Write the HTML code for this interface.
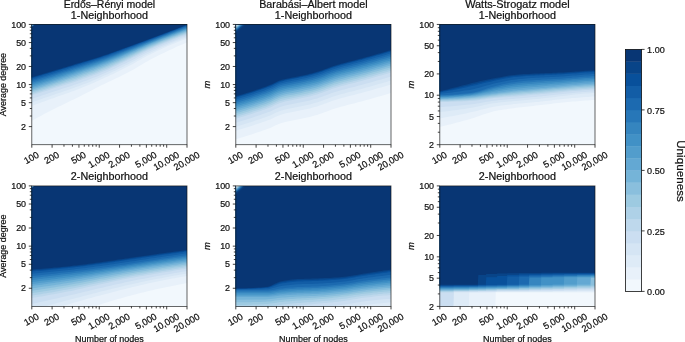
<!DOCTYPE html>
<html><head><meta charset="utf-8"><title>Uniqueness</title>
<style>html,body{margin:0;padding:0;background:#fff;overflow:hidden}svg{display:block;will-change:transform}</style></head>
<body>
<svg width="685" height="342" viewBox="0 0 685 342" font-family="'Liberation Sans', sans-serif" fill="#111" stroke="none">
<style>text{stroke:#111;stroke-width:0.22px}</style>
<clipPath id="c00"><rect x="31.80" y="24.45" width="155.20" height="120.25"/></clipPath>
<g clip-path="url(#c00)">
<rect x="30.80" y="23.45" width="157.20" height="122.25" fill="#f2f8fd"/>
<polygon points="30.8,23.4 188.0,23.4 188.0,42.5 187.0,42.5 184.5,43.5 182.1,44.5 179.6,45.6 177.1,46.6 174.7,47.7 172.2,48.9 169.8,50.0 167.3,51.2 164.8,52.4 162.4,53.6 159.9,54.8 157.4,56.0 155.0,57.3 152.5,58.6 150.0,59.8 147.6,61.2 145.1,62.5 142.7,64.0 140.2,65.5 137.7,67.0 135.3,68.4 132.8,69.9 130.3,71.3 127.9,72.6 125.4,73.8 122.9,75.1 120.5,76.3 118.0,77.4 115.6,78.6 113.1,79.7 110.6,80.9 108.2,82.0 105.7,83.2 103.2,84.4 100.8,85.6 98.3,86.9 95.9,88.1 93.4,89.4 90.9,90.7 88.5,92.0 86.0,93.3 83.5,94.5 81.1,95.8 78.6,97.0 76.1,98.3 73.7,99.5 71.2,100.6 68.8,101.8 66.3,103.0 63.8,104.2 61.4,105.4 58.9,106.6 56.4,107.8 54.0,109.0 51.5,110.3 49.0,111.6 46.6,112.8 44.1,114.1 41.7,115.5 39.2,116.8 36.7,118.1 34.3,119.5 31.8,120.8 30.8,120.8" fill="#e8f1fa"/>
<polygon points="30.8,23.4 188.0,23.4 188.0,38.5 187.0,38.5 184.5,39.4 182.1,40.3 179.6,41.2 177.1,42.2 174.7,43.2 172.2,44.2 169.8,45.3 167.3,46.3 164.8,47.4 162.4,48.5 159.9,49.7 157.4,50.8 155.0,52.0 152.5,53.2 150.0,54.4 147.6,55.6 145.1,56.9 142.7,58.3 140.2,59.7 137.7,61.1 135.3,62.5 132.8,63.9 130.3,65.3 127.9,66.6 125.4,67.8 122.9,69.1 120.5,70.3 118.0,71.5 115.6,72.7 113.1,73.9 110.6,75.0 108.2,76.2 105.7,77.3 103.2,78.4 100.8,79.6 98.3,80.7 95.9,81.8 93.4,82.9 90.9,83.9 88.5,85.0 86.0,86.0 83.5,87.1 81.1,88.1 78.6,89.0 76.1,90.0 73.7,90.9 71.2,91.8 68.8,92.7 66.3,93.5 63.8,94.4 61.4,95.3 58.9,96.1 56.4,97.0 54.0,97.9 51.5,98.8 49.0,99.6 46.6,100.5 44.1,101.4 41.7,102.3 39.2,103.2 36.7,104.1 34.3,105.0 31.8,105.9 30.8,105.9" fill="#deebf7"/>
<polygon points="30.8,23.4 188.0,23.4 188.0,37.2 187.0,37.2 184.5,38.0 182.1,38.9 179.6,39.9 177.1,40.8 174.7,41.8 172.2,42.8 169.8,43.8 167.3,44.9 164.8,45.9 162.4,47.0 159.9,48.1 157.4,49.2 155.0,50.4 152.5,51.5 150.0,52.7 147.6,53.9 145.1,55.1 142.7,56.4 140.2,57.8 137.7,59.1 135.3,60.5 132.8,61.8 130.3,63.1 127.9,64.4 125.4,65.6 122.9,66.9 120.5,68.1 118.0,69.3 115.6,70.4 113.1,71.6 110.6,72.8 108.2,73.9 105.7,75.0 103.2,76.1 100.8,77.2 98.3,78.3 95.9,79.3 93.4,80.3 90.9,81.4 88.5,82.4 86.0,83.4 83.5,84.3 81.1,85.3 78.6,86.2 76.1,87.1 73.7,88.0 71.2,88.8 68.8,89.7 66.3,90.5 63.8,91.3 61.4,92.2 58.9,93.0 56.4,93.8 54.0,94.7 51.5,95.5 49.0,96.4 46.6,97.3 44.1,98.1 41.7,99.0 39.2,99.8 36.7,100.7 34.3,101.5 31.8,102.4 30.8,102.4" fill="#d5e5f4"/>
<polygon points="30.8,23.4 188.0,23.4 188.0,35.8 187.0,35.8 184.5,36.7 182.1,37.6 179.6,38.5 177.1,39.4 174.7,40.4 172.2,41.4 169.8,42.4 167.3,43.4 164.8,44.4 162.4,45.5 159.9,46.5 157.4,47.6 155.0,48.7 152.5,49.8 150.0,51.0 147.6,52.1 145.1,53.3 142.7,54.6 140.2,55.8 137.7,57.1 135.3,58.5 132.8,59.7 130.3,61.0 127.9,62.2 125.4,63.4 122.9,64.6 120.5,65.8 118.0,67.0 115.6,68.2 113.1,69.4 110.6,70.5 108.2,71.6 105.7,72.7 103.2,73.8 100.8,74.8 98.3,75.9 95.9,76.9 93.4,77.8 90.9,78.8 88.5,79.7 86.0,80.7 83.5,81.6 81.1,82.5 78.6,83.4 76.1,84.2 73.7,85.1 71.2,85.9 68.8,86.7 66.3,87.5 63.8,88.3 61.4,89.1 58.9,89.9 56.4,90.7 54.0,91.5 51.5,92.3 49.0,93.1 46.6,94.0 44.1,94.8 41.7,95.6 39.2,96.4 36.7,97.3 34.3,98.1 31.8,98.9 30.8,98.9" fill="#cbdef1"/>
<polygon points="30.8,23.4 188.0,23.4 188.0,34.5 187.0,34.5 184.5,35.4 182.1,36.2 179.6,37.1 177.1,38.0 174.7,39.0 172.2,39.9 169.8,40.9 167.3,41.9 164.8,42.9 162.4,43.9 159.9,45.0 157.4,46.0 155.0,47.1 152.5,48.2 150.0,49.2 147.6,50.3 145.1,51.5 142.7,52.7 140.2,53.9 137.7,55.2 135.3,56.4 132.8,57.6 130.3,58.9 127.9,60.0 125.4,61.2 122.9,62.4 120.5,63.6 118.0,64.8 115.6,66.0 113.1,67.1 110.6,68.3 108.2,69.4 105.7,70.4 103.2,71.5 100.8,72.5 98.3,73.5 95.9,74.4 93.4,75.3 90.9,76.2 88.5,77.1 86.0,78.0 83.5,78.8 81.1,79.7 78.6,80.5 76.1,81.4 73.7,82.2 71.2,82.9 68.8,83.7 66.3,84.5 63.8,85.2 61.4,86.0 58.9,86.8 56.4,87.5 54.0,88.3 51.5,89.1 49.0,89.9 46.6,90.7 44.1,91.5 41.7,92.3 39.2,93.0 36.7,93.8 34.3,94.6 31.8,95.4 30.8,95.4" fill="#bed8ec"/>
<polygon points="30.8,23.4 188.0,23.4 188.0,33.6 187.0,33.6 184.5,34.5 182.1,35.3 179.6,36.2 177.1,37.2 174.7,38.1 172.2,39.0 169.8,40.0 167.3,41.0 164.8,42.0 162.4,43.0 159.9,44.0 157.4,45.1 155.0,46.1 152.5,47.2 150.0,48.3 147.6,49.3 145.1,50.5 142.7,51.6 140.2,52.8 137.7,54.1 135.3,55.3 132.8,56.5 130.3,57.7 127.9,58.8 125.4,60.0 122.9,61.2 120.5,62.3 118.0,63.5 115.6,64.6 113.1,65.8 110.6,66.9 108.2,68.0 105.7,69.0 103.2,70.1 100.8,71.0 98.3,72.0 95.9,72.9 93.4,73.9 90.9,74.8 88.5,75.6 86.0,76.5 83.5,77.3 81.1,78.2 78.6,79.0 76.1,79.9 73.7,80.7 71.2,81.5 68.8,82.3 66.3,83.0 63.8,83.8 61.4,84.6 58.9,85.4 56.4,86.1 54.0,86.9 51.5,87.7 49.0,88.5 46.6,89.3 44.1,90.1 41.7,90.9 39.2,91.6 36.7,92.4 34.3,93.2 31.8,94.0 30.8,94.0" fill="#aed1e7"/>
<polygon points="30.8,23.4 188.0,23.4 188.0,32.7 187.0,32.7 184.5,33.6 182.1,34.4 179.6,35.3 177.1,36.3 174.7,37.2 172.2,38.1 169.8,39.1 167.3,40.1 164.8,41.1 162.4,42.1 159.9,43.1 157.4,44.1 155.0,45.2 152.5,46.2 150.0,47.3 147.6,48.3 145.1,49.4 142.7,50.6 140.2,51.8 137.7,53.0 135.3,54.1 132.8,55.3 130.3,56.5 127.9,57.6 125.4,58.8 122.9,59.9 120.5,61.0 118.0,62.2 115.6,63.3 113.1,64.4 110.6,65.5 108.2,66.6 105.7,67.6 103.2,68.6 100.8,69.6 98.3,70.6 95.9,71.5 93.4,72.4 90.9,73.3 88.5,74.1 86.0,75.0 83.5,75.8 81.1,76.7 78.6,77.5 76.1,78.4 73.7,79.2 71.2,80.0 68.8,80.8 66.3,81.6 63.8,82.4 61.4,83.2 58.9,84.0 56.4,84.7 54.0,85.5 51.5,86.3 49.0,87.1 46.6,87.9 44.1,88.7 41.7,89.5 39.2,90.3 36.7,91.0 34.3,91.8 31.8,92.6 30.8,92.6" fill="#9dcae1"/>
<polygon points="30.8,23.4 188.0,23.4 188.0,31.8 187.0,31.8 184.5,32.7 182.1,33.6 179.6,34.5 177.1,35.4 174.7,36.3 172.2,37.2 169.8,38.2 167.3,39.2 164.8,40.1 162.4,41.1 159.9,42.1 157.4,43.2 155.0,44.2 152.5,45.2 150.0,46.3 147.6,47.3 145.1,48.4 142.7,49.5 140.2,50.7 137.7,51.8 135.3,53.0 132.8,54.2 130.3,55.3 127.9,56.4 125.4,57.5 122.9,58.6 120.5,59.7 118.0,60.9 115.6,62.0 113.1,63.0 110.6,64.1 108.2,65.2 105.7,66.2 103.2,67.2 100.8,68.2 98.3,69.1 95.9,70.0 93.4,70.9 90.9,71.8 88.5,72.6 86.0,73.5 83.5,74.3 81.1,75.2 78.6,76.0 76.1,76.9 73.7,77.7 71.2,78.5 68.8,79.3 66.3,80.1 63.8,80.9 61.4,81.7 58.9,82.5 56.4,83.3 54.0,84.1 51.5,84.9 49.0,85.7 46.6,86.5 44.1,87.3 41.7,88.1 39.2,88.9 36.7,89.7 34.3,90.4 31.8,91.2 30.8,91.2" fill="#8abfdd"/>
<polygon points="30.8,23.4 188.0,23.4 188.0,30.9 187.0,30.9 184.5,31.8 182.1,32.7 179.6,33.6 177.1,34.5 174.7,35.4 172.2,36.3 169.8,37.3 167.3,38.3 164.8,39.2 162.4,40.2 159.9,41.2 157.4,42.2 155.0,43.2 152.5,44.2 150.0,45.3 147.6,46.3 145.1,47.4 142.7,48.5 140.2,49.6 137.7,50.7 135.3,51.9 132.8,53.0 130.3,54.1 127.9,55.2 125.4,56.3 122.9,57.4 120.5,58.5 118.0,59.5 115.6,60.6 113.1,61.7 110.6,62.7 108.2,63.8 105.7,64.8 103.2,65.8 100.8,66.7 98.3,67.6 95.9,68.5 93.4,69.4 90.9,70.3 88.5,71.2 86.0,72.0 83.5,72.8 81.1,73.7 78.6,74.5 76.1,75.4 73.7,76.2 71.2,77.0 68.8,77.9 66.3,78.7 63.8,79.5 61.4,80.3 58.9,81.1 56.4,81.9 54.0,82.7 51.5,83.5 49.0,84.3 46.6,85.1 44.1,85.9 41.7,86.7 39.2,87.5 36.7,88.3 34.3,89.0 31.8,89.8 30.8,89.8" fill="#75b4d8"/>
<polygon points="30.8,23.4 188.0,23.4 188.0,30.0 187.0,30.0 184.5,30.9 182.1,31.8 179.6,32.7 177.1,33.6 174.7,34.5 172.2,35.4 169.8,36.4 167.3,37.3 164.8,38.3 162.4,39.3 159.9,40.3 157.4,41.3 155.0,42.3 152.5,43.3 150.0,44.3 147.6,45.3 145.1,46.4 142.7,47.4 140.2,48.5 137.7,49.6 135.3,50.7 132.8,51.8 130.3,52.9 127.9,54.0 125.4,55.0 122.9,56.1 120.5,57.2 118.0,58.2 115.6,59.3 113.1,60.3 110.6,61.4 108.2,62.4 105.7,63.4 103.2,64.3 100.8,65.3 98.3,66.2 95.9,67.1 93.4,67.9 90.9,68.8 88.5,69.7 86.0,70.5 83.5,71.3 81.1,72.2 78.6,73.0 76.1,73.9 73.7,74.7 71.2,75.6 68.8,76.4 66.3,77.2 63.8,78.1 61.4,78.9 58.9,79.7 56.4,80.5 54.0,81.3 51.5,82.1 49.0,82.9 46.6,83.7 44.1,84.5 41.7,85.3 39.2,86.1 36.7,86.9 34.3,87.6 31.8,88.4 30.8,88.4" fill="#63a8d3"/>
<polygon points="30.8,23.4 188.0,23.4 188.0,29.3 187.0,29.3 184.5,30.2 182.1,31.1 179.6,32.0 177.1,32.9 174.7,33.9 172.2,34.8 169.8,35.7 167.3,36.7 164.8,37.7 162.4,38.6 159.9,39.6 157.4,40.6 155.0,41.6 152.5,42.6 150.0,43.6 147.6,44.6 145.1,45.6 142.7,46.7 140.2,47.7 137.7,48.8 135.3,49.9 132.8,51.0 130.3,52.0 127.9,53.1 125.4,54.1 122.9,55.2 120.5,56.2 118.0,57.2 115.6,58.3 113.1,59.3 110.6,60.3 108.2,61.3 105.7,62.3 103.2,63.2 100.8,64.1 98.3,65.0 95.9,65.9 93.4,66.8 90.9,67.6 88.5,68.5 86.0,69.3 83.5,70.1 81.1,70.9 78.6,71.8 76.1,72.6 73.7,73.4 71.2,74.3 68.8,75.1 66.3,75.9 63.8,76.7 61.4,77.6 58.9,78.4 56.4,79.2 54.0,80.0 51.5,80.8 49.0,81.6 46.6,82.3 44.1,83.1 41.7,83.9 39.2,84.7 36.7,85.5 34.3,86.2 31.8,87.0 30.8,87.0" fill="#529dcc"/>
<polygon points="30.8,23.4 188.0,23.4 188.0,28.6 187.0,28.6 184.5,29.5 182.1,30.4 179.6,31.4 177.1,32.3 174.7,33.2 172.2,34.1 169.8,35.1 167.3,36.0 164.8,37.0 162.4,38.0 159.9,38.9 157.4,39.9 155.0,40.9 152.5,41.9 150.0,42.9 147.6,43.9 145.1,44.9 142.7,45.9 140.2,47.0 137.7,48.0 135.3,49.1 132.8,50.1 130.3,51.1 127.9,52.2 125.4,53.2 122.9,54.2 120.5,55.2 118.0,56.2 115.6,57.3 113.1,58.3 110.6,59.3 108.2,60.2 105.7,61.2 103.2,62.1 100.8,63.0 98.3,63.9 95.9,64.8 93.4,65.6 90.9,66.4 88.5,67.3 86.0,68.1 83.5,68.9 81.1,69.7 78.6,70.5 76.1,71.3 73.7,72.2 71.2,73.0 68.8,73.8 66.3,74.6 63.8,75.4 61.4,76.2 58.9,77.0 56.4,77.8 54.0,78.6 51.5,79.4 49.0,80.2 46.6,81.0 44.1,81.7 41.7,82.5 39.2,83.3 36.7,84.0 34.3,84.8 31.8,85.6 30.8,85.6" fill="#4191c6"/>
<polygon points="30.8,23.4 188.0,23.4 188.0,27.9 187.0,27.9 184.5,28.9 182.1,29.8 179.6,30.7 177.1,31.6 174.7,32.6 172.2,33.5 169.8,34.4 167.3,35.4 164.8,36.3 162.4,37.3 159.9,38.3 157.4,39.2 155.0,40.2 152.5,41.2 150.0,42.2 147.6,43.1 145.1,44.1 142.7,45.2 140.2,46.2 137.7,47.2 135.3,48.2 132.8,49.2 130.3,50.3 127.9,51.3 125.4,52.3 122.9,53.3 120.5,54.3 118.0,55.3 115.6,56.2 113.1,57.2 110.6,58.2 108.2,59.2 105.7,60.1 103.2,61.0 100.8,61.9 98.3,62.8 95.9,63.6 93.4,64.4 90.9,65.2 88.5,66.1 86.0,66.9 83.5,67.7 81.1,68.5 78.6,69.3 76.1,70.1 73.7,70.9 71.2,71.7 68.8,72.5 66.3,73.3 63.8,74.1 61.4,74.9 58.9,75.7 56.4,76.5 54.0,77.3 51.5,78.0 49.0,78.8 46.6,79.6 44.1,80.3 41.7,81.1 39.2,81.9 36.7,82.6 34.3,83.4 31.8,84.1 30.8,84.1" fill="#3585bf"/>
<polygon points="30.8,23.4 188.0,23.4 188.0,27.3 187.0,27.3 184.5,28.2 182.1,29.1 179.6,30.0 177.1,31.0 174.7,31.9 172.2,32.8 169.8,33.8 167.3,34.7 164.8,35.7 162.4,36.6 159.9,37.6 157.4,38.6 155.0,39.5 152.5,40.5 150.0,41.5 147.6,42.4 145.1,43.4 142.7,44.4 140.2,45.4 137.7,46.4 135.3,47.4 132.8,48.4 130.3,49.4 127.9,50.3 125.4,51.3 122.9,52.3 120.5,53.3 118.0,54.3 115.6,55.2 113.1,56.2 110.6,57.2 108.2,58.1 105.7,59.0 103.2,59.9 100.8,60.8 98.3,61.6 95.9,62.4 93.4,63.3 90.9,64.1 88.5,64.9 86.0,65.6 83.5,66.4 81.1,67.2 78.6,68.0 76.1,68.8 73.7,69.6 71.2,70.4 68.8,71.2 66.3,72.0 63.8,72.8 61.4,73.6 58.9,74.3 56.4,75.1 54.0,75.9 51.5,76.7 49.0,77.4 46.6,78.2 44.1,79.0 41.7,79.7 39.2,80.5 36.7,81.2 34.3,82.0 31.8,82.7 30.8,82.7" fill="#2777b8"/>
<polygon points="30.8,23.4 188.0,23.4 188.0,26.6 187.0,26.6 184.5,27.5 182.1,28.4 179.6,29.4 177.1,30.3 174.7,31.3 172.2,32.2 169.8,33.1 167.3,34.1 164.8,35.0 162.4,36.0 159.9,36.9 157.4,37.9 155.0,38.8 152.5,39.8 150.0,40.7 147.6,41.7 145.1,42.7 142.7,43.6 140.2,44.6 137.7,45.6 135.3,46.6 132.8,47.5 130.3,48.5 127.9,49.4 125.4,50.4 122.9,51.4 120.5,52.3 118.0,53.3 115.6,54.2 113.1,55.2 110.6,56.1 108.2,57.0 105.7,57.9 103.2,58.8 100.8,59.6 98.3,60.5 95.9,61.3 93.4,62.1 90.9,62.9 88.5,63.6 86.0,64.4 83.5,65.2 81.1,66.0 78.6,66.7 76.1,67.5 73.7,68.3 71.2,69.1 68.8,69.9 66.3,70.7 63.8,71.4 61.4,72.2 58.9,73.0 56.4,73.8 54.0,74.5 51.5,75.3 49.0,76.1 46.6,76.8 44.1,77.6 41.7,78.3 39.2,79.1 36.7,79.8 34.3,80.5 31.8,81.3 30.8,81.3" fill="#1c6ab0"/>
<polygon points="30.8,23.4 188.0,23.4 188.0,25.9 187.0,25.9 184.5,26.8 182.1,27.8 179.6,28.7 177.1,29.7 174.7,30.6 172.2,31.5 169.8,32.5 167.3,33.4 164.8,34.4 162.4,35.3 159.9,36.3 157.4,37.2 155.0,38.2 152.5,39.1 150.0,40.0 147.6,41.0 145.1,41.9 142.7,42.9 140.2,43.8 137.7,44.8 135.3,45.7 132.8,46.7 130.3,47.6 127.9,48.5 125.4,49.5 122.9,50.4 120.5,51.3 118.0,52.3 115.6,53.2 113.1,54.1 110.6,55.0 108.2,55.9 105.7,56.8 103.2,57.7 100.8,58.5 98.3,59.3 95.9,60.1 93.4,60.9 90.9,61.7 88.5,62.4 86.0,63.2 83.5,64.0 81.1,64.7 78.6,65.5 76.1,66.3 73.7,67.0 71.2,67.8 68.8,68.6 66.3,69.4 63.8,70.1 61.4,70.9 58.9,71.7 56.4,72.4 54.0,73.2 51.5,73.9 49.0,74.7 46.6,75.4 44.1,76.2 41.7,76.9 39.2,77.6 36.7,78.4 34.3,79.1 31.8,79.8 30.8,79.8" fill="#125da6"/>
<polygon points="30.8,23.4 188.0,23.4 188.0,25.2 187.0,25.2 184.5,26.2 182.1,27.1 179.6,28.1 177.1,29.0 174.7,30.0 172.2,30.9 169.8,31.8 167.3,32.8 164.8,33.7 162.4,34.7 159.9,35.6 157.4,36.5 155.0,37.5 152.5,38.4 150.0,39.3 147.6,40.3 145.1,41.2 142.7,42.1 140.2,43.0 137.7,44.0 135.3,44.9 132.8,45.8 130.3,46.7 127.9,47.6 125.4,48.5 122.9,49.4 120.5,50.4 118.0,51.3 115.6,52.2 113.1,53.1 110.6,54.0 108.2,54.9 105.7,55.7 103.2,56.6 100.8,57.4 98.3,58.2 95.9,59.0 93.4,59.7 90.9,60.5 88.5,61.2 86.0,62.0 83.5,62.7 81.1,63.5 78.6,64.2 76.1,65.0 73.7,65.8 71.2,66.5 68.8,67.3 66.3,68.0 63.8,68.8 61.4,69.6 58.9,70.3 56.4,71.1 54.0,71.8 51.5,72.6 49.0,73.3 46.6,74.0 44.1,74.8 41.7,75.5 39.2,76.2 36.7,77.0 34.3,77.7 31.8,78.4 30.8,78.4" fill="#08509b"/>
<polygon points="30.8,23.4 188.0,23.4 188.0,24.9 187.0,24.9 184.5,25.9 182.1,26.8 179.6,27.8 177.1,28.7 174.7,29.7 172.2,30.6 169.8,31.5 167.3,32.5 164.8,33.4 162.4,34.4 159.9,35.3 157.4,36.2 155.0,37.2 152.5,38.1 150.0,39.0 147.6,39.9 145.1,40.9 142.7,41.8 140.2,42.7 137.7,43.6 135.3,44.5 132.8,45.4 130.3,46.3 127.9,47.2 125.4,48.1 122.9,49.0 120.5,49.9 118.0,50.8 115.6,51.7 113.1,52.6 110.6,53.5 108.2,54.4 105.7,55.3 103.2,56.1 100.8,56.9 98.3,57.7 95.9,58.5 93.4,59.2 90.9,60.0 88.5,60.7 86.0,61.4 83.5,62.2 81.1,62.9 78.6,63.7 76.1,64.4 73.7,65.2 71.2,65.9 68.8,66.7 66.3,67.4 63.8,68.2 61.4,69.0 58.9,69.7 56.4,70.5 54.0,71.2 51.5,71.9 49.0,72.7 46.6,73.4 44.1,74.1 41.7,74.9 39.2,75.6 36.7,76.3 34.3,77.0 31.8,77.8 30.8,77.8" fill="#084488"/>
<polygon points="30.8,23.4 188.0,23.4 188.0,24.6 187.0,24.6 184.5,25.5 182.1,26.5 179.6,27.5 177.1,28.4 174.7,29.4 172.2,30.3 169.8,31.3 167.3,32.2 164.8,33.1 162.4,34.1 159.9,35.0 157.4,35.9 155.0,36.8 152.5,37.8 150.0,38.7 147.6,39.6 145.1,40.5 142.7,41.4 140.2,42.3 137.7,43.2 135.3,44.1 132.8,45.0 130.3,45.9 127.9,46.8 125.4,47.7 122.9,48.6 120.5,49.5 118.0,50.4 115.6,51.3 113.1,52.2 110.6,53.1 108.2,53.9 105.7,54.8 103.2,55.6 100.8,56.4 98.3,57.2 95.9,57.9 93.4,58.7 90.9,59.4 88.5,60.2 86.0,60.9 83.5,61.6 81.1,62.4 78.6,63.1 76.1,63.8 73.7,64.6 71.2,65.4 68.8,66.1 66.3,66.9 63.8,67.6 61.4,68.4 58.9,69.1 56.4,69.8 54.0,70.6 51.5,71.3 49.0,72.1 46.6,72.8 44.1,73.5 41.7,74.2 39.2,75.0 36.7,75.7 34.3,76.4 31.8,77.1 30.8,77.1" fill="#083674"/>
<linearGradient id="g00" x1="0" y1="0" x2="1" y2="1"><stop offset="0.04" stop-color="#f2f8fd"/><stop offset="0.16" stop-color="#9dcae1"/><stop offset="0.28" stop-color="#3585bf"/><stop offset="0.4" stop-color="#084488"/><stop offset="0.5" stop-color="#083674"/></linearGradient>
<rect x="31.80" y="24.45" width="4.0" height="3.5" fill="url(#g00)"/>
</g>
<rect x="31.80" y="24.45" width="155.20" height="120.25" fill="none" stroke="#111" stroke-width="0.8" stroke-opacity="0.8"/>
<path d="M31.80 144.70v3.0M52.10 144.70v3.0M78.94 144.70v3.0M99.25 144.70v3.0M119.55 144.70v3.0M146.39 144.70v3.0M166.70 144.70v3.0M187.00 144.70v3.0M31.80 126.60h-3.0M31.80 102.67h-3.0M31.80 84.57h-3.0M31.80 66.48h-3.0M31.80 42.55h-3.0M31.80 24.45h-3.0" stroke="#111" stroke-width="0.8" fill="none"/>
<path d="M63.98 144.70v2.0M72.41 144.70v2.0M84.28 144.70v2.0M88.80 144.70v2.0M92.71 144.70v2.0M96.16 144.70v2.0M131.43 144.70v2.0M139.86 144.70v2.0M151.73 144.70v2.0M156.25 144.70v2.0M160.16 144.70v2.0M163.61 144.70v2.0M31.80 116.01h-2.0M31.80 108.50h-2.0M31.80 97.91h-2.0M31.80 93.89h-2.0M31.80 90.40h-2.0M31.80 87.33h-2.0M31.80 55.89h-2.0M31.80 48.38h-2.0M31.80 37.79h-2.0M31.80 33.76h-2.0M31.80 30.28h-2.0M31.80 27.20h-2.0" stroke="#111" stroke-width="0.80" fill="none"/>
<text x="26.10" y="129.77" font-size="9.32" text-anchor="end" textLength="4.98" lengthAdjust="spacingAndGlyphs">2</text>
<text x="26.10" y="105.84" font-size="9.32" text-anchor="end" textLength="4.98" lengthAdjust="spacingAndGlyphs">5</text>
<text x="26.10" y="87.74" font-size="9.32" text-anchor="end" textLength="9.95" lengthAdjust="spacingAndGlyphs">10</text>
<text x="26.10" y="69.64" font-size="9.32" text-anchor="end" textLength="9.95" lengthAdjust="spacingAndGlyphs">20</text>
<text x="26.10" y="45.72" font-size="9.32" text-anchor="end" textLength="9.95" lengthAdjust="spacingAndGlyphs">50</text>
<text x="26.10" y="27.62" font-size="9.32" text-anchor="end" textLength="14.93" lengthAdjust="spacingAndGlyphs">100</text>
<text x="26.33" y="164.32" font-size="9.32" text-anchor="start" textLength="15.32" lengthAdjust="spacingAndGlyphs" transform="rotate(-30.00 26.33 164.32)">100</text>
<text x="46.63" y="164.32" font-size="9.32" text-anchor="start" textLength="15.32" lengthAdjust="spacingAndGlyphs" transform="rotate(-30.00 46.63 164.32)">200</text>
<text x="73.47" y="164.32" font-size="9.32" text-anchor="start" textLength="15.32" lengthAdjust="spacingAndGlyphs" transform="rotate(-30.00 73.47 164.32)">500</text>
<text x="90.46" y="168.15" font-size="9.32" text-anchor="start" textLength="22.98" lengthAdjust="spacingAndGlyphs" transform="rotate(-30.00 90.46 168.15)">1,000</text>
<text x="110.76" y="168.15" font-size="9.32" text-anchor="start" textLength="22.98" lengthAdjust="spacingAndGlyphs" transform="rotate(-30.00 110.76 168.15)">2,000</text>
<text x="137.60" y="168.15" font-size="9.32" text-anchor="start" textLength="22.98" lengthAdjust="spacingAndGlyphs" transform="rotate(-30.00 137.60 168.15)">5,000</text>
<text x="155.70" y="170.71" font-size="9.32" text-anchor="start" textLength="28.09" lengthAdjust="spacingAndGlyphs" transform="rotate(-30.00 155.70 170.71)">10,000</text>
<text x="176.00" y="170.71" font-size="9.32" text-anchor="start" textLength="28.09" lengthAdjust="spacingAndGlyphs" transform="rotate(-30.00 176.00 170.71)">20,000</text>
<text x="109.40" y="7.60" font-size="10.30" text-anchor="middle" textLength="91.49" lengthAdjust="spacingAndGlyphs">Erdős–Rényi model</text>
<text x="109.40" y="18.95" font-size="10.30" text-anchor="middle" textLength="77.14" lengthAdjust="spacingAndGlyphs">1-Neighborhood</text>
<text x="6.40" y="84.57" font-size="8.59" text-anchor="middle" textLength="63.25" lengthAdjust="spacingAndGlyphs" transform="rotate(-90.00 6.40 84.57)">Average degree</text>
<clipPath id="c01"><rect x="235.80" y="24.45" width="155.20" height="120.25"/></clipPath>
<g clip-path="url(#c01)">
<rect x="234.80" y="23.45" width="157.20" height="122.25" fill="#f2f8fd"/>
<polygon points="234.8,23.4 392.0,23.4 392.0,93.1 391.0,93.1 388.5,93.8 386.1,94.5 383.6,95.2 381.1,95.9 378.7,96.6 376.2,97.3 373.8,98.0 371.3,98.7 368.8,99.4 366.4,100.1 363.9,100.8 361.4,101.4 359.0,102.1 356.5,102.8 354.0,103.4 351.6,104.0 349.1,104.6 346.7,105.3 344.2,105.9 341.7,106.6 339.3,107.2 336.8,108.0 334.3,108.7 331.9,109.6 329.4,110.5 326.9,111.4 324.5,112.3 322.0,113.2 319.6,114.1 317.1,114.9 314.6,115.6 312.2,116.3 309.7,116.9 307.2,117.5 304.8,118.0 302.3,118.6 299.9,119.1 297.4,119.6 294.9,120.1 292.5,120.6 290.0,121.0 287.5,121.5 285.1,122.0 282.6,122.7 280.1,123.4 277.7,124.4 275.2,125.5 272.8,126.7 270.3,127.9 267.8,128.8 265.4,129.8 262.9,130.6 260.4,131.5 258.0,132.3 255.5,133.1 253.0,133.9 250.6,134.7 248.1,135.5 245.7,136.3 243.2,137.0 240.7,137.8 238.3,138.5 235.8,139.2 234.8,139.2" fill="#e8f1fa"/>
<polygon points="234.8,23.4 392.0,23.4 392.0,84.6 391.0,84.6 388.5,85.3 386.1,86.0 383.6,86.7 381.1,87.4 378.7,88.1 376.2,88.8 373.8,89.5 371.3,90.2 368.8,90.9 366.4,91.6 363.9,92.3 361.4,92.9 359.0,93.6 356.5,94.3 354.0,94.9 351.6,95.5 349.1,96.1 346.7,96.8 344.2,97.4 341.7,98.1 339.3,98.7 336.8,99.5 334.3,100.2 331.9,101.1 329.4,102.0 326.9,102.9 324.5,103.8 322.0,104.7 319.6,105.6 317.1,106.4 314.6,107.1 312.2,107.8 309.7,108.4 307.2,109.0 304.8,109.5 302.3,110.1 299.9,110.6 297.4,111.1 294.9,111.6 292.5,112.1 290.0,112.5 287.5,113.0 285.1,113.5 282.6,114.2 280.1,114.9 277.7,115.9 275.2,117.0 272.8,118.2 270.3,119.4 267.8,120.3 265.4,121.3 262.9,122.1 260.4,123.0 258.0,123.8 255.5,124.6 253.0,125.4 250.6,126.2 248.1,127.0 245.7,127.8 243.2,128.5 240.7,129.3 238.3,130.0 235.8,130.7 234.8,130.7" fill="#deebf7"/>
<polygon points="234.8,23.4 392.0,23.4 392.0,80.6 391.0,80.6 388.5,81.3 386.1,82.0 383.6,82.7 381.1,83.4 378.7,84.1 376.2,84.8 373.8,85.5 371.3,86.2 368.8,86.9 366.4,87.6 363.9,88.3 361.4,88.9 359.0,89.6 356.5,90.3 354.0,90.9 351.6,91.5 349.1,92.1 346.7,92.8 344.2,93.4 341.7,94.1 339.3,94.7 336.8,95.5 334.3,96.2 331.9,97.1 329.4,98.0 326.9,98.9 324.5,99.8 322.0,100.7 319.6,101.6 317.1,102.4 314.6,103.1 312.2,103.8 309.7,104.4 307.2,105.0 304.8,105.5 302.3,106.1 299.9,106.6 297.4,107.1 294.9,107.6 292.5,108.1 290.0,108.5 287.5,109.0 285.1,109.5 282.6,110.2 280.1,110.9 277.7,111.9 275.2,113.0 272.8,114.2 270.3,115.4 267.8,116.3 265.4,117.3 262.9,118.1 260.4,119.0 258.0,119.8 255.5,120.6 253.0,121.4 250.6,122.2 248.1,123.0 245.7,123.8 243.2,124.5 240.7,125.3 238.3,126.0 235.8,126.7 234.8,126.7" fill="#d5e5f4"/>
<polygon points="234.8,23.4 392.0,23.4 392.0,76.6 391.0,76.6 388.5,77.3 386.1,78.0 383.6,78.7 381.1,79.4 378.7,80.1 376.2,80.8 373.8,81.5 371.3,82.2 368.8,82.9 366.4,83.6 363.9,84.3 361.4,84.9 359.0,85.6 356.5,86.3 354.0,86.9 351.6,87.5 349.1,88.1 346.7,88.8 344.2,89.4 341.7,90.1 339.3,90.7 336.8,91.5 334.3,92.2 331.9,93.1 329.4,94.0 326.9,94.9 324.5,95.8 322.0,96.7 319.6,97.6 317.1,98.4 314.6,99.1 312.2,99.8 309.7,100.4 307.2,101.0 304.8,101.5 302.3,102.1 299.9,102.6 297.4,103.1 294.9,103.6 292.5,104.1 290.0,104.5 287.5,105.0 285.1,105.5 282.6,106.2 280.1,106.9 277.7,107.9 275.2,109.0 272.8,110.2 270.3,111.4 267.8,112.3 265.4,113.3 262.9,114.1 260.4,115.0 258.0,115.8 255.5,116.6 253.0,117.4 250.6,118.2 248.1,119.0 245.7,119.8 243.2,120.5 240.7,121.3 238.3,122.0 235.8,122.7 234.8,122.7" fill="#cbdef1"/>
<polygon points="234.8,23.4 392.0,23.4 392.0,72.6 391.0,72.6 388.5,73.3 386.1,74.0 383.6,74.7 381.1,75.4 378.7,76.1 376.2,76.8 373.8,77.5 371.3,78.2 368.8,78.9 366.4,79.6 363.9,80.3 361.4,80.9 359.0,81.6 356.5,82.3 354.0,82.9 351.6,83.5 349.1,84.1 346.7,84.8 344.2,85.4 341.7,86.1 339.3,86.7 336.8,87.5 334.3,88.2 331.9,89.1 329.4,90.0 326.9,90.9 324.5,91.8 322.0,92.7 319.6,93.6 317.1,94.4 314.6,95.1 312.2,95.8 309.7,96.4 307.2,97.0 304.8,97.5 302.3,98.1 299.9,98.6 297.4,99.1 294.9,99.6 292.5,100.1 290.0,100.5 287.5,101.0 285.1,101.5 282.6,102.2 280.1,102.9 277.7,103.9 275.2,105.0 272.8,106.2 270.3,107.4 267.8,108.3 265.4,109.3 262.9,110.1 260.4,111.0 258.0,111.8 255.5,112.6 253.0,113.4 250.6,114.2 248.1,115.0 245.7,115.8 243.2,116.5 240.7,117.3 238.3,118.0 235.8,118.7 234.8,118.7" fill="#bed8ec"/>
<polygon points="234.8,23.4 392.0,23.4 392.0,70.8 391.0,70.8 388.5,71.5 386.1,72.2 383.6,72.9 381.1,73.6 378.7,74.3 376.2,75.0 373.8,75.7 371.3,76.4 368.8,77.1 366.4,77.8 363.9,78.5 361.4,79.1 359.0,79.8 356.5,80.5 354.0,81.1 351.6,81.7 349.1,82.3 346.7,83.0 344.2,83.6 341.7,84.3 339.3,84.9 336.8,85.7 334.3,86.4 331.9,87.3 329.4,88.2 326.9,89.1 324.5,90.0 322.0,90.9 319.6,91.8 317.1,92.6 314.6,93.3 312.2,94.0 309.7,94.6 307.2,95.2 304.8,95.7 302.3,96.3 299.9,96.8 297.4,97.3 294.9,97.8 292.5,98.3 290.0,98.7 287.5,99.2 285.1,99.7 282.6,100.4 280.1,101.1 277.7,102.1 275.2,103.2 272.8,104.4 270.3,105.6 267.8,106.5 265.4,107.5 262.9,108.3 260.4,109.2 258.0,110.0 255.5,110.8 253.0,111.6 250.6,112.4 248.1,113.2 245.7,114.0 243.2,114.7 240.7,115.5 238.3,116.2 235.8,116.9 234.8,116.9" fill="#aed1e7"/>
<polygon points="234.8,23.4 392.0,23.4 392.0,69.0 391.0,69.0 388.5,69.7 386.1,70.4 383.6,71.1 381.1,71.8 378.7,72.5 376.2,73.2 373.8,73.9 371.3,74.6 368.8,75.3 366.4,76.0 363.9,76.7 361.4,77.3 359.0,78.0 356.5,78.7 354.0,79.3 351.6,79.9 349.1,80.5 346.7,81.2 344.2,81.8 341.7,82.5 339.3,83.1 336.8,83.9 334.3,84.6 331.9,85.5 329.4,86.4 326.9,87.3 324.5,88.2 322.0,89.1 319.6,90.0 317.1,90.8 314.6,91.5 312.2,92.2 309.7,92.8 307.2,93.4 304.8,93.9 302.3,94.5 299.9,95.0 297.4,95.5 294.9,96.0 292.5,96.5 290.0,96.9 287.5,97.4 285.1,97.9 282.6,98.6 280.1,99.3 277.7,100.3 275.2,101.4 272.8,102.6 270.3,103.8 267.8,104.7 265.4,105.7 262.9,106.5 260.4,107.4 258.0,108.2 255.5,109.0 253.0,109.8 250.6,110.6 248.1,111.4 245.7,112.2 243.2,112.9 240.7,113.7 238.3,114.4 235.8,115.1 234.8,115.1" fill="#9dcae1"/>
<polygon points="234.8,23.4 392.0,23.4 392.0,67.2 391.0,67.2 388.5,67.9 386.1,68.6 383.6,69.3 381.1,70.0 378.7,70.7 376.2,71.4 373.8,72.1 371.3,72.8 368.8,73.5 366.4,74.2 363.9,74.9 361.4,75.5 359.0,76.2 356.5,76.9 354.0,77.5 351.6,78.1 349.1,78.7 346.7,79.4 344.2,80.0 341.7,80.7 339.3,81.3 336.8,82.1 334.3,82.8 331.9,83.7 329.4,84.6 326.9,85.5 324.5,86.4 322.0,87.3 319.6,88.2 317.1,89.0 314.6,89.7 312.2,90.4 309.7,91.0 307.2,91.6 304.8,92.1 302.3,92.7 299.9,93.2 297.4,93.7 294.9,94.2 292.5,94.7 290.0,95.1 287.5,95.6 285.1,96.1 282.6,96.8 280.1,97.5 277.7,98.5 275.2,99.6 272.8,100.8 270.3,102.0 267.8,102.9 265.4,103.9 262.9,104.7 260.4,105.6 258.0,106.4 255.5,107.2 253.0,108.0 250.6,108.8 248.1,109.6 245.7,110.4 243.2,111.1 240.7,111.9 238.3,112.6 235.8,113.3 234.8,113.3" fill="#8abfdd"/>
<polygon points="234.8,23.4 392.0,23.4 392.0,65.4 391.0,65.4 388.5,66.1 386.1,66.8 383.6,67.5 381.1,68.2 378.7,68.9 376.2,69.6 373.8,70.3 371.3,71.0 368.8,71.7 366.4,72.4 363.9,73.1 361.4,73.7 359.0,74.4 356.5,75.1 354.0,75.7 351.6,76.3 349.1,76.9 346.7,77.6 344.2,78.2 341.7,78.9 339.3,79.5 336.8,80.3 334.3,81.0 331.9,81.9 329.4,82.8 326.9,83.7 324.5,84.6 322.0,85.5 319.6,86.4 317.1,87.2 314.6,87.9 312.2,88.6 309.7,89.2 307.2,89.8 304.8,90.3 302.3,90.9 299.9,91.4 297.4,91.9 294.9,92.4 292.5,92.9 290.0,93.3 287.5,93.8 285.1,94.3 282.6,95.0 280.1,95.7 277.7,96.7 275.2,97.8 272.8,99.0 270.3,100.2 267.8,101.1 265.4,102.1 262.9,102.9 260.4,103.8 258.0,104.6 255.5,105.4 253.0,106.2 250.6,107.0 248.1,107.8 245.7,108.6 243.2,109.3 240.7,110.1 238.3,110.8 235.8,111.5 234.8,111.5" fill="#75b4d8"/>
<polygon points="234.8,23.4 392.0,23.4 392.0,63.6 391.0,63.6 388.5,64.3 386.1,65.0 383.6,65.7 381.1,66.4 378.7,67.1 376.2,67.8 373.8,68.5 371.3,69.2 368.8,69.9 366.4,70.6 363.9,71.3 361.4,71.9 359.0,72.6 356.5,73.3 354.0,73.9 351.6,74.5 349.1,75.1 346.7,75.8 344.2,76.4 341.7,77.1 339.3,77.7 336.8,78.5 334.3,79.2 331.9,80.1 329.4,81.0 326.9,81.9 324.5,82.8 322.0,83.7 319.6,84.6 317.1,85.4 314.6,86.1 312.2,86.8 309.7,87.4 307.2,88.0 304.8,88.5 302.3,89.1 299.9,89.6 297.4,90.1 294.9,90.6 292.5,91.1 290.0,91.5 287.5,92.0 285.1,92.5 282.6,93.2 280.1,93.9 277.7,94.9 275.2,96.0 272.8,97.2 270.3,98.4 267.8,99.3 265.4,100.3 262.9,101.1 260.4,102.0 258.0,102.8 255.5,103.6 253.0,104.4 250.6,105.2 248.1,106.0 245.7,106.8 243.2,107.5 240.7,108.3 238.3,109.0 235.8,109.7 234.8,109.7" fill="#63a8d3"/>
<polygon points="234.8,23.4 392.0,23.4 392.0,61.9 391.0,61.9 388.5,62.6 386.1,63.3 383.6,64.0 381.1,64.7 378.7,65.4 376.2,66.1 373.8,66.8 371.3,67.5 368.8,68.2 366.4,68.9 363.9,69.5 361.4,70.2 359.0,70.9 356.5,71.5 354.0,72.2 351.6,72.8 349.1,73.4 346.7,74.1 344.2,74.7 341.7,75.3 339.3,76.0 336.8,76.7 334.3,77.5 331.9,78.4 329.4,79.3 326.9,80.2 324.5,81.1 322.0,82.0 319.6,82.9 317.1,83.7 314.6,84.4 312.2,85.0 309.7,85.7 307.2,86.2 304.8,86.8 302.3,87.3 299.9,87.9 297.4,88.4 294.9,88.9 292.5,89.4 290.0,89.8 287.5,90.3 285.1,90.8 282.6,91.4 280.1,92.2 277.7,93.1 275.2,94.3 272.8,95.5 270.3,96.7 267.8,97.6 265.4,98.5 262.9,99.4 260.4,100.3 258.0,101.1 255.5,101.9 253.0,102.7 250.6,103.5 248.1,104.3 245.7,105.1 243.2,105.8 240.7,106.6 238.3,107.3 235.8,108.0 234.8,108.0" fill="#529dcc"/>
<polygon points="234.8,23.4 392.0,23.4 392.0,60.2 391.0,60.2 388.5,60.9 386.1,61.6 383.6,62.3 381.1,63.0 378.7,63.7 376.2,64.4 373.8,65.1 371.3,65.8 368.8,66.5 366.4,67.2 363.9,67.8 361.4,68.5 359.0,69.2 356.5,69.8 354.0,70.5 351.6,71.1 349.1,71.7 346.7,72.3 344.2,73.0 341.7,73.6 339.3,74.3 336.8,75.0 334.3,75.8 331.9,76.7 329.4,77.6 326.9,78.5 324.5,79.4 322.0,80.3 319.6,81.2 317.1,82.0 314.6,82.7 312.2,83.3 309.7,83.9 307.2,84.5 304.8,85.1 302.3,85.6 299.9,86.2 297.4,86.7 294.9,87.2 292.5,87.7 290.0,88.1 287.5,88.6 285.1,89.1 282.6,89.7 280.1,90.4 277.7,91.4 275.2,92.6 272.8,93.8 270.3,94.9 267.8,95.9 265.4,96.8 262.9,97.7 260.4,98.6 258.0,99.4 255.5,100.2 253.0,101.0 250.6,101.8 248.1,102.6 245.7,103.4 243.2,104.1 240.7,104.9 238.3,105.6 235.8,106.3 234.8,106.3" fill="#4191c6"/>
<polygon points="234.8,23.4 392.0,23.4 392.0,58.5 391.0,58.5 388.5,59.2 386.1,59.9 383.6,60.6 381.1,61.3 378.7,62.0 376.2,62.7 373.8,63.4 371.3,64.1 368.8,64.8 366.4,65.4 363.9,66.1 361.4,66.8 359.0,67.5 356.5,68.1 354.0,68.8 351.6,69.4 349.1,70.0 346.7,70.6 344.2,71.3 341.7,71.9 339.3,72.6 336.8,73.3 334.3,74.1 331.9,74.9 329.4,75.8 326.9,76.8 324.5,77.7 322.0,78.6 319.6,79.4 317.1,80.2 314.6,81.0 312.2,81.6 309.7,82.2 307.2,82.8 304.8,83.4 302.3,83.9 299.9,84.5 297.4,85.0 294.9,85.5 292.5,85.9 290.0,86.4 287.5,86.9 285.1,87.4 282.6,88.0 280.1,88.7 277.7,89.7 275.2,90.9 272.8,92.1 270.3,93.2 267.8,94.2 265.4,95.1 262.9,96.0 260.4,96.8 258.0,97.7 255.5,98.5 253.0,99.3 250.6,100.1 248.1,100.9 245.7,101.6 243.2,102.4 240.7,103.1 238.3,103.9 235.8,104.6 234.8,104.6" fill="#3585bf"/>
<polygon points="234.8,23.4 392.0,23.4 392.0,56.7 391.0,56.7 388.5,57.5 386.1,58.2 383.6,58.9 381.1,59.6 378.7,60.3 376.2,61.0 373.8,61.7 371.3,62.4 368.8,63.0 366.4,63.7 363.9,64.4 361.4,65.1 359.0,65.7 356.5,66.4 354.0,67.0 351.6,67.7 349.1,68.3 346.7,68.9 344.2,69.5 341.7,70.2 339.3,70.9 336.8,71.6 334.3,72.4 331.9,73.2 329.4,74.1 326.9,75.0 324.5,76.0 322.0,76.9 319.6,77.7 317.1,78.5 314.6,79.2 312.2,79.9 309.7,80.5 307.2,81.1 304.8,81.7 302.3,82.2 299.9,82.8 297.4,83.3 294.9,83.8 292.5,84.2 290.0,84.7 287.5,85.2 285.1,85.7 282.6,86.3 280.1,87.0 277.7,88.0 275.2,89.2 272.8,90.4 270.3,91.5 267.8,92.5 265.4,93.4 262.9,94.3 260.4,95.1 258.0,96.0 255.5,96.8 253.0,97.6 250.6,98.4 248.1,99.2 245.7,99.9 243.2,100.7 240.7,101.4 238.3,102.2 235.8,102.9 234.8,102.9" fill="#2777b8"/>
<polygon points="234.8,23.4 392.0,23.4 392.0,55.0 391.0,55.0 388.5,55.7 386.1,56.5 383.6,57.2 381.1,57.9 378.7,58.6 376.2,59.3 373.8,60.0 371.3,60.6 368.8,61.3 366.4,62.0 363.9,62.7 361.4,63.4 359.0,64.0 356.5,64.7 354.0,65.3 351.6,66.0 349.1,66.6 346.7,67.2 344.2,67.8 341.7,68.5 339.3,69.2 336.8,69.9 334.3,70.7 331.9,71.5 329.4,72.4 326.9,73.3 324.5,74.2 322.0,75.1 319.6,76.0 317.1,76.8 314.6,77.5 312.2,78.2 309.7,78.8 307.2,79.4 304.8,79.9 302.3,80.5 299.9,81.0 297.4,81.6 294.9,82.1 292.5,82.5 290.0,83.0 287.5,83.4 285.1,84.0 282.6,84.6 280.1,85.3 277.7,86.3 275.2,87.5 272.8,88.7 270.3,89.8 267.8,90.8 265.4,91.7 262.9,92.6 260.4,93.4 258.0,94.2 255.5,95.1 253.0,95.9 250.6,96.7 248.1,97.4 245.7,98.2 243.2,99.0 240.7,99.7 238.3,100.4 235.8,101.1 234.8,101.1" fill="#1c6ab0"/>
<polygon points="234.8,23.4 392.0,23.4 392.0,53.3 391.0,53.3 388.5,54.0 386.1,54.7 383.6,55.5 381.1,56.2 378.7,56.9 376.2,57.6 373.8,58.2 371.3,58.9 368.8,59.6 366.4,60.3 363.9,61.0 361.4,61.7 359.0,62.3 356.5,63.0 354.0,63.6 351.6,64.2 349.1,64.9 346.7,65.5 344.2,66.1 341.7,66.8 339.3,67.5 336.8,68.2 334.3,69.0 331.9,69.8 329.4,70.7 326.9,71.6 324.5,72.5 322.0,73.4 319.6,74.3 317.1,75.1 314.6,75.8 312.2,76.5 309.7,77.1 307.2,77.7 304.8,78.2 302.3,78.8 299.9,79.3 297.4,79.9 294.9,80.3 292.5,80.8 290.0,81.3 287.5,81.7 285.1,82.3 282.6,82.9 280.1,83.6 277.7,84.6 275.2,85.7 272.8,87.0 270.3,88.1 267.8,89.1 265.4,90.0 262.9,90.9 260.4,91.7 258.0,92.5 255.5,93.3 253.0,94.2 250.6,95.0 248.1,95.7 245.7,96.5 243.2,97.3 240.7,98.0 238.3,98.7 235.8,99.4 234.8,99.4" fill="#125da6"/>
<polygon points="234.8,23.4 392.0,23.4 392.0,51.6 391.0,51.6 388.5,52.3 386.1,53.0 383.6,53.7 381.1,54.4 378.7,55.1 376.2,55.8 373.8,56.5 371.3,57.2 368.8,57.9 366.4,58.6 363.9,59.3 361.4,59.9 359.0,60.6 356.5,61.3 354.0,61.9 351.6,62.5 349.1,63.1 346.7,63.8 344.2,64.4 341.7,65.1 339.3,65.7 336.8,66.5 334.3,67.2 331.9,68.1 329.4,69.0 326.9,69.9 324.5,70.8 322.0,71.7 319.6,72.6 317.1,73.4 314.6,74.1 312.2,74.8 309.7,75.4 307.2,76.0 304.8,76.5 302.3,77.1 299.9,77.6 297.4,78.1 294.9,78.6 292.5,79.1 290.0,79.5 287.5,80.0 285.1,80.5 282.6,81.2 280.1,81.9 277.7,82.9 275.2,84.0 272.8,85.2 270.3,86.4 267.8,87.3 265.4,88.3 262.9,89.1 260.4,90.0 258.0,90.8 255.5,91.6 253.0,92.4 250.6,93.2 248.1,94.0 245.7,94.8 243.2,95.5 240.7,96.3 238.3,97.0 235.8,97.7 234.8,97.7" fill="#08509b"/>
<polygon points="234.8,23.4 392.0,23.4 392.0,50.8 391.0,50.8 388.5,51.5 386.1,52.3 383.6,53.0 381.1,53.7 378.7,54.4 376.2,55.1 373.8,55.8 371.3,56.4 368.8,57.1 366.4,57.8 363.9,58.5 361.4,59.2 359.0,59.8 356.5,60.5 354.0,61.1 351.6,61.8 349.1,62.4 346.7,63.0 344.2,63.6 341.7,64.3 339.3,65.0 336.8,65.7 334.3,66.5 331.9,67.3 329.4,68.2 326.9,69.1 324.5,70.0 322.0,70.9 319.6,71.8 317.1,72.6 314.6,73.3 312.2,74.0 309.7,74.6 307.2,75.2 304.8,75.7 302.3,76.3 299.9,76.8 297.4,77.4 294.9,77.9 292.5,78.3 290.0,78.8 287.5,79.2 285.1,79.8 282.6,80.4 280.1,81.1 277.7,82.1 275.2,83.3 272.8,84.5 270.3,85.6 267.8,86.6 265.4,87.5 262.9,88.4 260.4,89.2 258.0,90.0 255.5,90.9 253.0,91.7 250.6,92.5 248.1,93.2 245.7,94.0 243.2,94.8 240.7,95.5 238.3,96.2 235.8,96.9 234.8,96.9" fill="#084488"/>
<polygon points="234.8,23.4 392.0,23.4 392.0,50.1 391.0,50.1 388.5,50.8 386.1,51.5 383.6,52.2 381.1,52.9 378.7,53.6 376.2,54.3 373.8,55.0 371.3,55.7 368.8,56.4 366.4,57.0 363.9,57.7 361.4,58.4 359.0,59.1 356.5,59.7 354.0,60.4 351.6,61.0 349.1,61.6 346.7,62.2 344.2,62.9 341.7,63.5 339.3,64.2 336.8,64.9 334.3,65.7 331.9,66.5 329.4,67.4 326.9,68.4 324.5,69.3 322.0,70.2 319.6,71.0 317.1,71.8 314.6,72.6 312.2,73.2 309.7,73.8 307.2,74.4 304.8,75.0 302.3,75.5 299.9,76.1 297.4,76.6 294.9,77.1 292.5,77.5 290.0,78.0 287.5,78.5 285.1,79.0 282.6,79.6 280.1,80.3 277.7,81.3 275.2,82.5 272.8,83.7 270.3,84.8 267.8,85.8 265.4,86.7 262.9,87.6 260.4,88.4 258.0,89.3 255.5,90.1 253.0,90.9 250.6,91.7 248.1,92.5 245.7,93.2 243.2,94.0 240.7,94.7 238.3,95.5 235.8,96.2 234.8,96.2" fill="#083674"/>
<linearGradient id="g01" x1="0" y1="0" x2="1" y2="1"><stop offset="0.04" stop-color="#f2f8fd"/><stop offset="0.16" stop-color="#9dcae1"/><stop offset="0.28" stop-color="#3585bf"/><stop offset="0.4" stop-color="#084488"/><stop offset="0.5" stop-color="#083674"/></linearGradient>
<rect x="235.80" y="24.45" width="10.5" height="8.8" fill="url(#g01)"/>
</g>
<rect x="235.80" y="24.45" width="155.20" height="120.25" fill="none" stroke="#111" stroke-width="0.8" stroke-opacity="0.8"/>
<path d="M235.80 144.70v3.0M256.10 144.70v3.0M282.94 144.70v3.0M303.25 144.70v3.0M323.55 144.70v3.0M350.39 144.70v3.0M370.70 144.70v3.0M391.00 144.70v3.0M235.80 126.60h-3.0M235.80 102.67h-3.0M235.80 84.57h-3.0M235.80 66.48h-3.0M235.80 42.55h-3.0M235.80 24.45h-3.0" stroke="#111" stroke-width="0.8" fill="none"/>
<path d="M267.98 144.70v2.0M276.41 144.70v2.0M288.28 144.70v2.0M292.80 144.70v2.0M296.71 144.70v2.0M300.16 144.70v2.0M335.43 144.70v2.0M343.86 144.70v2.0M355.73 144.70v2.0M360.25 144.70v2.0M364.16 144.70v2.0M367.61 144.70v2.0M235.80 116.01h-2.0M235.80 108.50h-2.0M235.80 97.91h-2.0M235.80 93.89h-2.0M235.80 90.40h-2.0M235.80 87.33h-2.0M235.80 55.89h-2.0M235.80 48.38h-2.0M235.80 37.79h-2.0M235.80 33.76h-2.0M235.80 30.28h-2.0M235.80 27.20h-2.0" stroke="#111" stroke-width="0.80" fill="none"/>
<text x="230.10" y="129.77" font-size="9.32" text-anchor="end" textLength="4.98" lengthAdjust="spacingAndGlyphs">2</text>
<text x="230.10" y="105.84" font-size="9.32" text-anchor="end" textLength="4.98" lengthAdjust="spacingAndGlyphs">5</text>
<text x="230.10" y="87.74" font-size="9.32" text-anchor="end" textLength="9.95" lengthAdjust="spacingAndGlyphs">10</text>
<text x="230.10" y="69.64" font-size="9.32" text-anchor="end" textLength="9.95" lengthAdjust="spacingAndGlyphs">20</text>
<text x="230.10" y="45.72" font-size="9.32" text-anchor="end" textLength="9.95" lengthAdjust="spacingAndGlyphs">50</text>
<text x="230.10" y="27.62" font-size="9.32" text-anchor="end" textLength="14.93" lengthAdjust="spacingAndGlyphs">100</text>
<text x="230.33" y="164.32" font-size="9.32" text-anchor="start" textLength="15.32" lengthAdjust="spacingAndGlyphs" transform="rotate(-30.00 230.33 164.32)">100</text>
<text x="250.63" y="164.32" font-size="9.32" text-anchor="start" textLength="15.32" lengthAdjust="spacingAndGlyphs" transform="rotate(-30.00 250.63 164.32)">200</text>
<text x="277.47" y="164.32" font-size="9.32" text-anchor="start" textLength="15.32" lengthAdjust="spacingAndGlyphs" transform="rotate(-30.00 277.47 164.32)">500</text>
<text x="294.46" y="168.15" font-size="9.32" text-anchor="start" textLength="22.98" lengthAdjust="spacingAndGlyphs" transform="rotate(-30.00 294.46 168.15)">1,000</text>
<text x="314.76" y="168.15" font-size="9.32" text-anchor="start" textLength="22.98" lengthAdjust="spacingAndGlyphs" transform="rotate(-30.00 314.76 168.15)">2,000</text>
<text x="341.60" y="168.15" font-size="9.32" text-anchor="start" textLength="22.98" lengthAdjust="spacingAndGlyphs" transform="rotate(-30.00 341.60 168.15)">5,000</text>
<text x="359.70" y="170.71" font-size="9.32" text-anchor="start" textLength="28.09" lengthAdjust="spacingAndGlyphs" transform="rotate(-30.00 359.70 170.71)">10,000</text>
<text x="380.00" y="170.71" font-size="9.32" text-anchor="start" textLength="28.09" lengthAdjust="spacingAndGlyphs" transform="rotate(-30.00 380.00 170.71)">20,000</text>
<text x="313.40" y="7.60" font-size="10.30" text-anchor="middle" textLength="108.34" lengthAdjust="spacingAndGlyphs">Barabási–Albert model</text>
<text x="313.40" y="18.95" font-size="10.30" text-anchor="middle" textLength="77.14" lengthAdjust="spacingAndGlyphs">1-Neighborhood</text>
<text x="209.80" y="84.57" font-size="8.59" text-anchor="middle" textLength="7.89" lengthAdjust="spacingAndGlyphs" font-style="italic" transform="rotate(-90.00 209.80 84.57)">m</text>
<clipPath id="c02"><rect x="439.80" y="24.45" width="155.20" height="120.25"/></clipPath>
<g clip-path="url(#c02)">
<rect x="438.80" y="23.45" width="157.20" height="122.25" fill="#f2f8fd"/>
<polygon points="438.8,23.4 596.0,23.4 596.0,100.0 595.0,100.0 592.5,100.1 590.1,100.3 587.6,100.5 585.1,100.6 582.7,100.8 580.2,101.0 577.8,101.2 575.3,101.4 572.8,101.6 570.4,101.8 567.9,102.0 565.4,102.3 563.0,102.5 560.5,102.8 558.0,103.0 555.6,103.3 553.1,103.6 550.7,103.9 548.2,104.2 545.7,104.5 543.3,104.8 540.8,105.1 538.3,105.3 535.9,105.6 533.4,105.9 530.9,106.2 528.5,106.4 526.0,106.7 523.6,107.0 521.1,107.3 518.6,107.5 516.2,107.8 513.7,108.2 511.2,108.5 508.8,108.8 506.3,109.2 503.9,109.5 501.4,109.9 498.9,110.3 496.5,110.8 494.0,111.3 491.5,111.9 489.1,112.7 486.6,113.4 484.1,114.3 481.7,115.1 479.2,116.0 476.8,116.8 474.3,117.7 471.8,118.5 469.4,119.2 466.9,119.9 464.4,120.6 462.0,121.3 459.5,121.9 457.0,122.6 454.6,123.2 452.1,123.9 449.7,124.5 447.2,125.1 444.7,125.7 442.3,126.3 439.8,126.9 438.8,126.9" fill="#e8f1fa"/>
<polygon points="438.8,23.4 596.0,23.4 596.0,96.5 595.0,96.5 592.5,96.6 590.1,96.8 587.6,97.0 585.1,97.1 582.7,97.3 580.2,97.5 577.8,97.7 575.3,97.9 572.8,98.1 570.4,98.3 567.9,98.5 565.4,98.8 563.0,99.0 560.5,99.3 558.0,99.5 555.6,99.8 553.1,100.1 550.7,100.4 548.2,100.7 545.7,101.0 543.3,101.3 540.8,101.6 538.3,101.9 535.9,102.1 533.4,102.3 530.9,102.6 528.5,102.8 526.0,103.0 523.6,103.2 521.1,103.4 518.6,103.6 516.2,103.9 513.7,104.1 511.2,104.4 508.8,104.7 506.3,105.0 503.9,105.3 501.4,105.6 498.9,106.0 496.5,106.3 494.0,106.8 491.5,107.2 489.1,107.8 486.6,108.4 484.1,109.0 481.7,109.6 479.2,110.3 476.8,110.9 474.3,111.5 471.8,112.1 469.4,112.6 466.9,113.2 464.4,113.7 462.0,114.2 459.5,114.7 457.0,115.2 454.6,115.7 452.1,116.2 449.7,116.6 447.2,117.1 444.7,117.6 442.3,118.0 439.8,118.4 438.8,118.4" fill="#deebf7"/>
<polygon points="438.8,23.4 596.0,23.4 596.0,93.0 595.0,93.0 592.5,93.1 590.1,93.3 587.6,93.4 585.1,93.6 582.7,93.8 580.2,94.0 577.8,94.2 575.3,94.5 572.8,94.8 570.4,95.1 567.9,95.4 565.4,95.7 563.0,96.0 560.5,96.3 558.0,96.6 555.6,96.9 553.1,97.2 550.7,97.5 548.2,97.8 545.7,98.0 543.3,98.3 540.8,98.6 538.3,98.9 535.9,99.1 533.4,99.3 530.9,99.6 528.5,99.8 526.0,100.0 523.6,100.2 521.1,100.4 518.6,100.7 516.2,100.9 513.7,101.1 511.2,101.4 508.8,101.6 506.3,101.8 503.9,102.0 501.4,102.3 498.9,102.6 496.5,102.9 494.0,103.2 491.5,103.6 489.1,104.1 486.6,104.6 484.1,105.1 481.7,105.7 479.2,106.2 476.8,106.7 474.3,107.2 471.8,107.7 469.4,108.1 466.9,108.5 464.4,108.9 462.0,109.2 459.5,109.6 457.0,109.9 454.6,110.3 452.1,110.6 449.7,110.9 447.2,111.2 444.7,111.5 442.3,111.7 439.8,112.0 438.8,112.0" fill="#d5e5f4"/>
<polygon points="438.8,23.4 596.0,23.4 596.0,91.2 595.0,91.2 592.5,91.4 590.1,91.5 587.6,91.7 585.1,91.9 582.7,92.0 580.2,92.2 577.8,92.4 575.3,92.7 572.8,92.9 570.4,93.2 567.9,93.5 565.4,93.7 563.0,94.0 560.5,94.3 558.0,94.5 555.6,94.8 553.1,95.1 550.7,95.3 548.2,95.6 545.7,95.9 543.3,96.1 540.8,96.4 538.3,96.6 535.9,96.9 533.4,97.1 530.9,97.3 528.5,97.5 526.0,97.8 523.6,98.0 521.1,98.2 518.6,98.4 516.2,98.6 513.7,98.9 511.2,99.1 508.8,99.3 506.3,99.5 503.9,99.7 501.4,99.9 498.9,100.1 496.5,100.4 494.0,100.7 491.5,101.0 489.1,101.4 486.6,101.8 484.1,102.3 481.7,102.7 479.2,103.2 476.8,103.6 474.3,104.0 471.8,104.3 469.4,104.6 466.9,104.8 464.4,105.1 462.0,105.3 459.5,105.5 457.0,105.8 454.6,106.0 452.1,106.2 449.7,106.4 447.2,106.5 444.7,106.7 442.3,106.9 439.8,107.0 438.8,107.0" fill="#cbdef1"/>
<polygon points="438.8,23.4 596.0,23.4 596.0,89.5 595.0,89.5 592.5,89.6 590.1,89.8 587.6,90.0 585.1,90.1 582.7,90.3 580.2,90.5 577.8,90.7 575.3,90.9 572.8,91.1 570.4,91.3 567.9,91.5 565.4,91.8 563.0,92.0 560.5,92.2 558.0,92.5 555.6,92.7 553.1,92.9 550.7,93.2 548.2,93.4 545.7,93.7 543.3,93.9 540.8,94.1 538.3,94.4 535.9,94.6 533.4,94.8 530.9,95.1 528.5,95.3 526.0,95.5 523.6,95.8 521.1,96.0 518.6,96.2 516.2,96.4 513.7,96.6 511.2,96.8 508.8,97.0 506.3,97.2 503.9,97.3 501.4,97.5 498.9,97.7 496.5,97.9 494.0,98.1 491.5,98.4 489.1,98.7 486.6,99.1 484.1,99.4 481.7,99.8 479.2,100.1 476.8,100.4 474.3,100.7 471.8,100.9 469.4,101.0 466.9,101.2 464.4,101.3 462.0,101.4 459.5,101.5 457.0,101.6 454.6,101.7 452.1,101.8 449.7,101.9 447.2,101.9 439.8,102.0 438.8,102.0" fill="#bed8ec"/>
<polygon points="438.8,23.4 596.0,23.4 596.0,88.3 595.0,88.3 592.5,88.4 590.1,88.6 587.6,88.8 585.1,88.9 582.7,89.1 580.2,89.3 577.8,89.5 575.3,89.7 572.8,89.9 570.4,90.1 567.9,90.3 565.4,90.6 563.0,90.8 560.5,91.0 558.0,91.3 555.6,91.5 553.1,91.7 550.7,92.0 548.2,92.2 545.7,92.5 543.3,92.7 540.8,92.9 538.3,93.2 535.9,93.4 533.4,93.6 530.9,93.9 528.5,94.1 526.0,94.3 523.6,94.5 521.1,94.8 518.6,95.0 516.2,95.2 513.7,95.4 511.2,95.6 508.8,95.8 506.3,96.0 503.9,96.2 501.4,96.5 498.9,96.7 496.5,96.9 494.0,97.2 491.5,97.5 489.1,97.8 486.6,98.1 484.1,98.5 481.7,98.8 479.2,99.2 476.8,99.5 474.3,99.7 471.8,100.0 469.4,100.1 466.9,100.3 464.4,100.4 462.0,100.6 459.5,100.7 457.0,100.8 454.6,100.9 452.1,101.0 449.7,101.1 447.2,101.2 444.7,101.2 439.8,101.3 438.8,101.3" fill="#aed1e7"/>
<polygon points="438.8,23.4 596.0,23.4 596.0,87.1 595.0,87.1 592.5,87.2 590.1,87.4 587.6,87.6 585.1,87.7 582.7,87.9 580.2,88.1 577.8,88.3 575.3,88.5 572.8,88.7 570.4,88.9 567.9,89.1 565.4,89.4 563.0,89.6 560.5,89.8 558.0,90.1 555.6,90.3 553.1,90.5 550.7,90.8 548.2,91.0 545.7,91.3 543.3,91.5 540.8,91.7 538.3,92.0 535.9,92.2 533.4,92.4 530.9,92.7 528.5,92.9 526.0,93.1 523.6,93.3 521.1,93.5 518.6,93.8 516.2,94.0 513.7,94.2 511.2,94.4 508.8,94.7 506.3,94.9 503.9,95.1 501.4,95.4 498.9,95.6 496.5,95.9 494.0,96.2 491.5,96.5 489.1,96.8 486.6,97.2 484.1,97.5 481.7,97.9 479.2,98.2 476.8,98.5 474.3,98.8 471.8,99.1 469.4,99.2 466.9,99.4 464.4,99.6 462.0,99.7 459.5,99.9 457.0,100.0 454.6,100.1 452.1,100.2 449.7,100.3 447.2,100.4 444.7,100.5 442.3,100.6 439.8,100.6 438.8,100.6" fill="#9dcae1"/>
<polygon points="438.8,23.4 596.0,23.4 596.0,85.9 595.0,85.9 592.5,86.0 590.1,86.2 587.6,86.4 585.1,86.5 582.7,86.7 580.2,86.9 577.8,87.1 575.3,87.3 572.8,87.5 570.4,87.7 567.9,87.9 565.4,88.2 563.0,88.4 560.5,88.6 558.0,88.9 555.6,89.1 553.1,89.3 550.7,89.6 548.2,89.8 545.7,90.1 543.3,90.3 540.8,90.5 538.3,90.8 535.9,91.0 533.4,91.2 530.9,91.5 528.5,91.7 526.0,91.9 523.6,92.1 521.1,92.3 518.6,92.6 516.2,92.8 513.7,93.0 511.2,93.3 508.8,93.5 506.3,93.8 503.9,94.1 501.4,94.3 498.9,94.6 496.5,94.9 494.0,95.2 491.5,95.5 489.1,95.9 486.6,96.2 484.1,96.6 481.7,96.9 479.2,97.3 476.8,97.6 474.3,97.9 471.8,98.1 469.4,98.3 466.9,98.5 464.4,98.7 462.0,98.9 459.5,99.0 457.0,99.2 454.6,99.3 452.1,99.5 449.7,99.6 447.2,99.7 444.7,99.8 442.3,99.8 439.8,99.9 438.8,99.9" fill="#8abfdd"/>
<polygon points="438.8,23.4 596.0,23.4 596.0,84.7 595.0,84.7 592.5,84.8 590.1,85.0 587.6,85.2 585.1,85.3 582.7,85.5 580.2,85.7 577.8,85.9 575.3,86.1 572.8,86.3 570.4,86.5 567.9,86.7 565.4,87.0 563.0,87.2 560.5,87.4 558.0,87.7 555.6,87.9 553.1,88.1 550.7,88.4 548.2,88.6 545.7,88.9 543.3,89.1 540.8,89.3 538.3,89.6 535.9,89.8 533.4,90.0 530.9,90.2 528.5,90.5 526.0,90.7 523.6,90.9 521.1,91.1 518.6,91.3 516.2,91.6 513.7,91.8 511.2,92.1 508.8,92.4 506.3,92.7 503.9,93.0 501.4,93.3 498.9,93.6 496.5,93.9 494.0,94.2 491.5,94.5 489.1,94.9 486.6,95.3 484.1,95.6 481.7,96.0 479.2,96.3 476.8,96.7 474.3,97.0 471.8,97.2 469.4,97.5 466.9,97.7 464.4,97.8 462.0,98.0 459.5,98.2 457.0,98.4 454.6,98.5 452.1,98.7 449.7,98.8 447.2,98.9 444.7,99.0 442.3,99.1 439.8,99.2 438.8,99.2" fill="#75b4d8"/>
<polygon points="438.8,23.4 596.0,23.4 596.0,83.5 595.0,83.5 592.5,83.6 590.1,83.8 587.6,84.0 585.1,84.1 582.7,84.3 580.2,84.5 577.8,84.7 575.3,84.9 572.8,85.1 570.4,85.3 567.9,85.5 565.4,85.8 563.0,86.0 560.5,86.2 558.0,86.5 555.6,86.7 553.1,86.9 550.7,87.2 548.2,87.4 545.7,87.7 543.3,87.9 540.8,88.1 538.3,88.4 535.9,88.6 533.4,88.8 530.9,89.0 528.5,89.2 526.0,89.5 523.6,89.7 521.1,89.9 518.6,90.1 516.2,90.4 513.7,90.6 511.2,90.9 508.8,91.2 506.3,91.5 503.9,91.9 501.4,92.2 498.9,92.5 496.5,92.9 494.0,93.2 491.5,93.6 489.1,93.9 486.6,94.3 484.1,94.7 481.7,95.0 479.2,95.4 476.8,95.7 474.3,96.0 471.8,96.3 469.4,96.6 466.9,96.8 464.4,97.0 462.0,97.2 459.5,97.4 457.0,97.6 454.6,97.8 452.1,97.9 449.7,98.1 447.2,98.2 444.7,98.3 442.3,98.4 439.8,98.5 438.8,98.5" fill="#63a8d3"/>
<polygon points="438.8,23.4 596.0,23.4 596.0,82.0 595.0,82.0 592.5,82.1 590.1,82.3 587.6,82.5 585.1,82.6 582.7,82.8 580.2,83.0 577.8,83.2 575.3,83.4 572.8,83.6 570.4,83.8 567.9,84.1 565.4,84.3 563.0,84.5 560.5,84.7 558.0,84.9 555.6,85.2 553.1,85.4 550.7,85.6 548.2,85.8 545.7,86.0 543.3,86.2 540.8,86.5 538.3,86.7 535.9,86.9 533.4,87.1 530.9,87.3 528.5,87.5 526.0,87.7 523.6,88.0 521.1,88.2 518.6,88.4 516.2,88.7 513.7,88.9 511.2,89.3 508.8,89.6 506.3,89.9 503.9,90.3 501.4,90.7 498.9,91.1 496.5,91.5 494.0,91.8 491.5,92.3 489.1,92.7 486.6,93.2 484.1,93.6 481.7,94.1 479.2,94.5 476.8,94.9 474.3,95.3 471.8,95.6 469.4,95.9 466.9,96.1 464.4,96.3 462.0,96.5 459.5,96.7 457.0,96.9 454.6,97.1 452.1,97.3 449.7,97.4 447.2,97.5 444.7,97.7 442.3,97.7 439.8,97.8 438.8,97.8" fill="#529dcc"/>
<polygon points="438.8,23.4 596.0,23.4 596.0,80.5 595.0,80.5 592.5,80.6 590.1,80.8 587.6,81.0 585.1,81.1 582.7,81.3 580.2,81.5 577.8,81.7 575.3,81.9 572.8,82.1 570.4,82.3 567.9,82.6 565.4,82.8 563.0,83.0 560.5,83.2 558.0,83.4 555.6,83.6 553.1,83.8 550.7,84.0 548.2,84.2 545.7,84.4 543.3,84.6 540.8,84.8 538.3,85.0 535.9,85.2 533.4,85.4 530.9,85.6 528.5,85.8 526.0,86.0 523.6,86.2 521.1,86.5 518.6,86.7 516.2,87.0 513.7,87.3 511.2,87.6 508.8,87.9 506.3,88.3 503.9,88.7 501.4,89.2 498.9,89.6 496.5,90.0 494.0,90.5 491.5,91.0 489.1,91.5 486.6,92.0 484.1,92.6 481.7,93.1 479.2,93.6 476.8,94.1 474.3,94.5 471.8,94.9 469.4,95.2 466.9,95.4 464.4,95.6 462.0,95.9 459.5,96.1 457.0,96.3 454.6,96.4 452.1,96.6 449.7,96.8 447.2,96.9 444.7,97.0 442.3,97.1 439.8,97.1 438.8,97.1" fill="#4191c6"/>
<polygon points="438.8,23.4 596.0,23.4 596.0,79.0 595.0,79.0 592.5,79.1 590.1,79.3 587.6,79.5 585.1,79.6 582.7,79.8 580.2,80.0 577.8,80.2 575.3,80.4 572.8,80.6 570.4,80.8 567.9,81.1 565.4,81.3 563.0,81.5 560.5,81.7 558.0,81.9 555.6,82.1 553.1,82.2 550.7,82.4 548.2,82.6 545.7,82.7 543.3,82.9 540.8,83.1 538.3,83.3 535.9,83.5 533.4,83.7 530.9,83.9 528.5,84.1 526.0,84.3 523.6,84.5 521.1,84.7 518.6,85.0 516.2,85.3 513.7,85.6 511.2,85.9 508.8,86.3 506.3,86.7 503.9,87.2 501.4,87.7 498.9,88.1 496.5,88.6 494.0,89.1 491.5,89.7 489.1,90.3 486.6,90.9 484.1,91.5 481.7,92.2 479.2,92.8 476.8,93.3 474.3,93.8 471.8,94.2 469.4,94.5 466.9,94.7 464.4,95.0 462.0,95.2 459.5,95.4 457.0,95.6 454.6,95.8 452.1,96.0 449.7,96.1 447.2,96.2 444.7,96.3 442.3,96.4 439.8,96.5 438.8,96.5" fill="#3585bf"/>
<polygon points="438.8,23.4 596.0,23.4 596.0,77.5 595.0,77.5 592.5,77.6 590.1,77.8 587.6,78.0 585.1,78.1 582.7,78.3 580.2,78.5 577.8,78.7 575.3,78.9 572.8,79.1 570.4,79.4 567.9,79.6 565.4,79.8 563.0,80.0 560.5,80.2 558.0,80.3 555.6,80.5 553.1,80.7 550.7,80.8 548.2,81.0 545.7,81.1 543.3,81.3 540.8,81.4 538.3,81.6 535.9,81.8 533.4,82.0 530.9,82.2 528.5,82.4 526.0,82.6 523.6,82.8 521.1,83.0 518.6,83.3 516.2,83.6 513.7,83.9 511.2,84.2 508.8,84.7 506.3,85.1 503.9,85.6 501.4,86.1 498.9,86.7 496.5,87.2 494.0,87.7 491.5,88.4 489.1,89.0 486.6,89.8 484.1,90.5 481.7,91.2 479.2,91.9 476.8,92.5 474.3,93.0 471.8,93.5 469.4,93.8 466.9,94.0 464.4,94.3 462.0,94.5 459.5,94.7 457.0,95.0 454.6,95.1 452.1,95.3 449.7,95.5 447.2,95.6 444.7,95.7 442.3,95.7 439.8,95.8 438.8,95.8" fill="#2777b8"/>
<polygon points="438.8,23.4 596.0,23.4 596.0,76.0 595.0,76.0 592.5,76.1 590.1,76.3 587.6,76.5 585.1,76.6 582.7,76.8 580.2,77.0 577.8,77.2 575.3,77.4 572.8,77.6 570.4,77.9 567.9,78.1 565.4,78.3 563.0,78.5 560.5,78.7 558.0,78.8 555.6,79.0 553.1,79.1 550.7,79.2 548.2,79.3 545.7,79.5 543.3,79.6 540.8,79.7 538.3,79.9 535.9,80.1 533.4,80.3 530.9,80.4 528.5,80.6 526.0,80.8 523.6,81.1 521.1,81.3 518.6,81.6 516.2,81.9 513.7,82.2 511.2,82.6 508.8,83.0 506.3,83.5 503.9,84.1 501.4,84.6 498.9,85.2 496.5,85.8 494.0,86.4 491.5,87.1 489.1,87.8 486.6,88.6 484.1,89.4 481.7,90.2 479.2,91.0 476.8,91.7 474.3,92.3 471.8,92.7 469.4,93.1 466.9,93.3 464.4,93.6 462.0,93.8 459.5,94.1 457.0,94.3 454.6,94.5 452.1,94.7 449.7,94.8 447.2,94.9 444.7,95.0 442.3,95.1 439.8,95.1 438.8,95.1" fill="#1c6ab0"/>
<polygon points="438.8,23.4 596.0,23.4 596.0,74.0 595.0,74.0 592.5,74.1 590.1,74.3 587.6,74.5 585.1,74.6 582.7,74.8 580.2,75.0 577.8,75.2 575.3,75.4 572.8,75.6 570.4,75.8 567.9,76.0 565.4,76.2 563.0,76.4 560.5,76.6 558.0,76.7 555.6,76.8 553.1,76.9 550.7,77.0 548.2,77.2 545.7,77.3 543.3,77.4 540.8,77.5 538.3,77.7 535.9,77.8 533.4,78.0 530.9,78.1 528.5,78.3 526.0,78.5 523.6,78.7 521.1,78.9 518.6,79.1 516.2,79.4 513.7,79.7 511.2,80.0 508.8,80.4 506.3,80.9 503.9,81.4 501.4,81.9 498.9,82.5 496.5,83.0 494.0,83.6 491.5,84.2 489.1,84.9 486.6,85.6 484.1,86.3 481.7,87.0 479.2,87.7 476.8,88.3 474.3,88.9 471.8,89.4 469.4,89.9 466.9,90.3 464.4,90.6 462.0,91.0 459.5,91.4 457.0,91.7 454.6,92.1 452.1,92.4 449.7,92.7 447.2,93.0 444.7,93.3 442.3,93.5 439.8,93.8 438.8,93.8" fill="#125da6"/>
<polygon points="438.8,23.4 596.0,23.4 596.0,72.0 595.0,72.0 592.5,72.2 590.1,72.3 587.6,72.5 585.1,72.6 582.7,72.8 580.2,73.0 577.8,73.2 575.3,73.4 572.8,73.6 570.4,73.8 567.9,74.0 565.4,74.1 563.0,74.3 560.5,74.4 558.0,74.6 555.6,74.7 553.1,74.8 550.7,74.9 548.2,75.0 545.7,75.1 543.3,75.2 540.8,75.3 538.3,75.4 535.9,75.6 533.4,75.7 530.9,75.8 528.5,76.0 526.0,76.1 523.6,76.3 521.1,76.5 518.6,76.7 516.2,76.9 513.7,77.1 511.2,77.5 508.8,77.9 506.3,78.3 503.9,78.8 501.4,79.3 498.9,79.8 496.5,80.3 494.0,80.8 491.5,81.4 489.1,81.9 486.6,82.5 484.1,83.1 481.7,83.7 479.2,84.3 476.8,84.9 474.3,85.5 471.8,86.1 469.4,86.6 466.9,87.2 464.4,87.7 462.0,88.2 459.5,88.7 457.0,89.2 454.6,89.7 452.1,90.2 449.7,90.6 447.2,91.1 444.7,91.6 442.3,92.0 439.8,92.4 438.8,92.4" fill="#08509b"/>
<polygon points="438.8,23.4 596.0,23.4 596.0,71.1 595.0,71.1 592.5,71.3 590.1,71.4 587.6,71.6 585.1,71.7 582.7,71.9 580.2,72.1 577.8,72.3 575.3,72.5 572.8,72.7 570.4,72.8 567.9,73.0 565.4,73.2 563.0,73.4 560.5,73.5 558.0,73.6 555.6,73.7 553.1,73.8 550.7,73.9 548.2,74.0 545.7,74.1 543.3,74.2 540.8,74.3 538.3,74.4 535.9,74.5 533.4,74.7 530.9,74.8 528.5,74.9 526.0,75.1 523.6,75.2 521.1,75.4 518.6,75.6 516.2,75.8 513.7,76.0 511.2,76.3 508.8,76.7 506.3,77.1 503.9,77.6 501.4,78.1 498.9,78.6 496.5,79.1 494.0,79.6 491.5,80.1 489.1,80.6 486.6,81.1 484.1,81.7 481.7,82.3 479.2,82.8 476.8,83.4 474.3,84.0 471.8,84.6 469.4,85.2 466.9,85.8 464.4,86.3 462.0,86.9 459.5,87.5 457.0,88.0 454.6,88.6 452.1,89.2 449.7,89.7 447.2,90.2 444.7,90.8 442.3,91.3 439.8,91.9 438.8,91.9" fill="#084488"/>
<polygon points="438.8,23.4 596.0,23.4 596.0,70.2 595.0,70.2 592.5,70.4 590.1,70.5 587.6,70.7 585.1,70.8 582.7,71.0 580.2,71.2 577.8,71.4 575.3,71.5 572.8,71.7 570.4,71.9 567.9,72.1 565.4,72.3 563.0,72.4 560.5,72.5 558.0,72.6 555.6,72.7 553.1,72.8 550.7,72.9 548.2,73.0 545.7,73.1 543.3,73.2 540.8,73.3 538.3,73.4 535.9,73.5 533.4,73.6 530.9,73.8 528.5,73.9 526.0,74.0 523.6,74.1 521.1,74.3 518.6,74.5 516.2,74.7 513.7,74.9 511.2,75.2 508.8,75.5 506.3,75.9 503.9,76.4 501.4,76.9 498.9,77.4 496.5,77.8 494.0,78.3 491.5,78.8 489.1,79.3 486.6,79.8 484.1,80.3 481.7,80.8 479.2,81.3 476.8,81.9 474.3,82.5 471.8,83.1 469.4,83.7 466.9,84.4 464.4,85.0 462.0,85.6 459.5,86.3 457.0,86.9 454.6,87.5 452.1,88.1 449.7,88.8 447.2,89.4 444.7,90.0 442.3,90.6 439.8,91.3 438.8,91.3" fill="#083674"/>
</g>
<rect x="439.80" y="24.45" width="155.20" height="120.25" fill="none" stroke="#111" stroke-width="0.8" stroke-opacity="0.8"/>
<path d="M439.80 144.70v3.0M460.10 144.70v3.0M486.94 144.70v3.0M507.25 144.70v3.0M527.55 144.70v3.0M554.39 144.70v3.0M574.70 144.70v3.0M595.00 144.70v3.0M439.80 144.70h-3.0M439.80 116.53h-3.0M439.80 95.23h-3.0M439.80 73.92h-3.0M439.80 45.76h-3.0M439.80 24.45h-3.0" stroke="#111" stroke-width="0.8" fill="none"/>
<path d="M471.98 144.70v2.0M480.41 144.70v2.0M492.28 144.70v2.0M496.80 144.70v2.0M500.71 144.70v2.0M504.16 144.70v2.0M539.43 144.70v2.0M547.86 144.70v2.0M559.73 144.70v2.0M564.25 144.70v2.0M568.16 144.70v2.0M571.61 144.70v2.0M439.80 132.24h-2.0M439.80 123.39h-2.0M439.80 110.93h-2.0M439.80 106.19h-2.0M439.80 102.09h-2.0M439.80 98.47h-2.0M439.80 61.46h-2.0M439.80 52.62h-2.0M439.80 40.15h-2.0M439.80 35.41h-2.0M439.80 31.31h-2.0M439.80 27.69h-2.0" stroke="#111" stroke-width="0.80" fill="none"/>
<text x="434.10" y="147.87" font-size="9.32" text-anchor="end" textLength="4.98" lengthAdjust="spacingAndGlyphs">2</text>
<text x="434.10" y="119.70" font-size="9.32" text-anchor="end" textLength="4.98" lengthAdjust="spacingAndGlyphs">5</text>
<text x="434.10" y="98.40" font-size="9.32" text-anchor="end" textLength="9.95" lengthAdjust="spacingAndGlyphs">10</text>
<text x="434.10" y="77.09" font-size="9.32" text-anchor="end" textLength="9.95" lengthAdjust="spacingAndGlyphs">20</text>
<text x="434.10" y="48.93" font-size="9.32" text-anchor="end" textLength="9.95" lengthAdjust="spacingAndGlyphs">50</text>
<text x="434.10" y="27.62" font-size="9.32" text-anchor="end" textLength="14.93" lengthAdjust="spacingAndGlyphs">100</text>
<text x="434.33" y="164.32" font-size="9.32" text-anchor="start" textLength="15.32" lengthAdjust="spacingAndGlyphs" transform="rotate(-30.00 434.33 164.32)">100</text>
<text x="454.63" y="164.32" font-size="9.32" text-anchor="start" textLength="15.32" lengthAdjust="spacingAndGlyphs" transform="rotate(-30.00 454.63 164.32)">200</text>
<text x="481.47" y="164.32" font-size="9.32" text-anchor="start" textLength="15.32" lengthAdjust="spacingAndGlyphs" transform="rotate(-30.00 481.47 164.32)">500</text>
<text x="498.46" y="168.15" font-size="9.32" text-anchor="start" textLength="22.98" lengthAdjust="spacingAndGlyphs" transform="rotate(-30.00 498.46 168.15)">1,000</text>
<text x="518.76" y="168.15" font-size="9.32" text-anchor="start" textLength="22.98" lengthAdjust="spacingAndGlyphs" transform="rotate(-30.00 518.76 168.15)">2,000</text>
<text x="545.60" y="168.15" font-size="9.32" text-anchor="start" textLength="22.98" lengthAdjust="spacingAndGlyphs" transform="rotate(-30.00 545.60 168.15)">5,000</text>
<text x="563.70" y="170.71" font-size="9.32" text-anchor="start" textLength="28.09" lengthAdjust="spacingAndGlyphs" transform="rotate(-30.00 563.70 170.71)">10,000</text>
<text x="584.00" y="170.71" font-size="9.32" text-anchor="start" textLength="28.09" lengthAdjust="spacingAndGlyphs" transform="rotate(-30.00 584.00 170.71)">20,000</text>
<text x="517.40" y="7.60" font-size="10.30" text-anchor="middle" textLength="104.49" lengthAdjust="spacingAndGlyphs">Watts-Strogatz model</text>
<text x="517.40" y="18.95" font-size="10.30" text-anchor="middle" textLength="77.14" lengthAdjust="spacingAndGlyphs">1-Neighborhood</text>
<text x="413.80" y="84.57" font-size="8.59" text-anchor="middle" textLength="7.89" lengthAdjust="spacingAndGlyphs" font-style="italic" transform="rotate(-90.00 413.80 84.57)">m</text>
<clipPath id="c10"><rect x="31.80" y="185.90" width="155.20" height="120.50"/></clipPath>
<g clip-path="url(#c10)">
<rect x="30.80" y="184.90" width="157.20" height="122.50" fill="#f2f8fd"/>
<polygon points="30.8,184.9 188.0,184.9 188.0,283.0 187.0,283.0 184.5,283.5 182.1,283.9 179.6,284.4 177.1,284.9 174.7,285.4 172.2,285.9 169.8,286.4 167.3,286.9 164.8,287.4 162.4,288.0 159.9,288.5 157.4,289.1 155.0,289.6 152.5,290.2 150.0,290.8 147.6,291.3 145.1,291.9 142.7,292.5 140.2,293.1 137.7,293.8 135.3,294.4 132.8,295.0 130.3,295.7 127.9,296.3 125.4,297.0 122.9,297.7 120.5,298.4 118.0,299.1 115.6,299.8 113.1,300.6 110.6,301.3 108.2,302.1 105.7,302.8 103.2,303.6 100.8,304.4 98.3,305.2 95.9,306.0 93.4,306.8 90.9,307.7 88.5,308.4 31.8,308.4 30.8,308.4" fill="#e8f1fa"/>
<polygon points="30.8,184.9 188.0,184.9 188.0,276.0 187.0,276.0 184.5,276.4 182.1,276.8 179.6,277.3 177.1,277.7 174.7,278.2 172.2,278.6 169.8,279.1 167.3,279.6 164.8,280.0 162.4,280.5 159.9,281.0 157.4,281.5 155.0,282.0 152.5,282.6 150.0,283.1 147.6,283.6 145.1,284.2 142.7,284.8 140.2,285.3 137.7,285.9 135.3,286.5 132.8,287.1 130.3,287.7 127.9,288.3 125.4,288.9 122.9,289.5 120.5,290.1 118.0,290.8 115.6,291.4 113.1,292.0 110.6,292.7 108.2,293.4 105.7,294.0 103.2,294.7 100.8,295.3 98.3,296.0 95.9,296.6 93.4,297.3 90.9,298.0 88.5,298.6 86.0,299.3 83.5,300.0 81.1,300.7 78.6,301.4 76.1,302.1 73.7,302.8 71.2,303.5 68.8,304.3 66.3,305.0 63.8,305.7 61.4,306.5 58.9,307.2 56.4,308.0 54.0,308.4 31.8,308.4 30.8,308.4" fill="#deebf7"/>
<polygon points="30.8,184.9 188.0,184.9 188.0,273.5 187.0,273.5 184.5,273.9 182.1,274.3 179.6,274.8 177.1,275.2 174.7,275.6 172.2,276.1 169.8,276.5 167.3,277.0 164.8,277.4 162.4,277.9 159.9,278.4 157.4,278.8 155.0,279.3 152.5,279.8 150.0,280.3 147.6,280.8 145.1,281.3 142.7,281.8 140.2,282.3 137.7,282.9 135.3,283.4 132.8,283.9 130.3,284.5 127.9,285.0 125.4,285.6 122.9,286.2 120.5,286.8 118.0,287.4 115.6,288.0 113.1,288.6 110.6,289.2 108.2,289.8 105.7,290.4 103.2,291.0 100.8,291.6 98.3,292.3 95.9,292.9 93.4,293.5 90.9,294.2 88.5,294.8 86.0,295.4 83.5,296.1 81.1,296.7 78.6,297.4 76.1,298.0 73.7,298.7 71.2,299.3 68.8,299.9 66.3,300.6 63.8,301.3 61.4,301.9 58.9,302.6 56.4,303.2 54.0,303.9 51.5,304.5 49.0,305.2 46.6,305.9 44.1,306.5 41.7,307.2 39.2,307.9 36.7,308.4 31.8,308.4 30.8,308.4" fill="#d5e5f4"/>
<polygon points="30.8,184.9 188.0,184.9 188.0,271.0 187.0,271.0 184.5,271.4 182.1,271.8 179.6,272.2 177.1,272.7 174.7,273.1 172.2,273.5 169.8,273.9 167.3,274.4 164.8,274.8 162.4,275.2 159.9,275.7 157.4,276.1 155.0,276.6 152.5,277.0 150.0,277.5 147.6,277.9 145.1,278.4 142.7,278.9 140.2,279.3 137.7,279.8 135.3,280.3 132.8,280.8 130.3,281.3 127.9,281.8 125.4,282.3 122.9,282.9 120.5,283.4 118.0,284.0 115.6,284.5 113.1,285.1 110.6,285.7 108.2,286.2 105.7,286.8 103.2,287.4 100.8,288.0 98.3,288.5 95.9,289.1 93.4,289.7 90.9,290.3 88.5,290.9 86.0,291.5 83.5,292.1 81.1,292.7 78.6,293.3 76.1,293.9 73.7,294.5 71.2,295.1 68.8,295.6 66.3,296.2 63.8,296.8 61.4,297.3 58.9,297.9 56.4,298.5 54.0,299.0 51.5,299.6 49.0,300.1 46.6,300.7 44.1,301.2 41.7,301.8 39.2,302.3 36.7,302.9 34.3,303.4 31.8,303.9 30.8,303.9" fill="#cbdef1"/>
<polygon points="30.8,184.9 188.0,184.9 188.0,268.5 187.0,268.5 184.5,268.9 182.1,269.3 179.6,269.7 177.1,270.1 174.7,270.5 172.2,270.9 169.8,271.4 167.3,271.8 164.8,272.2 162.4,272.6 159.9,273.0 157.4,273.4 155.0,273.8 152.5,274.3 150.0,274.7 147.6,275.1 145.1,275.5 142.7,275.9 140.2,276.3 137.7,276.8 135.3,277.2 132.8,277.7 130.3,278.1 127.9,278.6 125.4,279.1 122.9,279.6 120.5,280.1 118.0,280.6 115.6,281.1 113.1,281.6 110.6,282.1 108.2,282.7 105.7,283.2 103.2,283.7 100.8,284.3 98.3,284.8 95.9,285.4 93.4,285.9 90.9,286.5 88.5,287.1 86.0,287.6 83.5,288.2 81.1,288.8 78.6,289.3 76.1,289.8 73.7,290.4 71.2,290.9 68.8,291.3 66.3,291.8 63.8,292.3 61.4,292.8 58.9,293.3 56.4,293.7 54.0,294.2 51.5,294.6 49.0,295.1 46.6,295.5 44.1,295.9 41.7,296.4 39.2,296.8 36.7,297.2 34.3,297.6 31.8,298.0 30.8,298.0" fill="#bed8ec"/>
<polygon points="30.8,184.9 188.0,184.9 188.0,267.1 187.0,267.1 184.5,267.5 182.1,267.9 179.6,268.3 177.1,268.7 174.7,269.1 172.2,269.5 169.8,269.9 167.3,270.3 164.8,270.7 162.4,271.1 159.9,271.5 157.4,271.9 155.0,272.3 152.5,272.7 150.0,273.1 147.6,273.5 145.1,274.0 142.7,274.4 140.2,274.8 137.7,275.2 135.3,275.6 132.8,276.1 130.3,276.5 127.9,277.0 125.4,277.5 122.9,277.9 120.5,278.4 118.0,278.9 115.6,279.4 113.1,279.9 110.6,280.4 108.2,280.9 105.7,281.4 103.2,281.9 100.8,282.5 98.3,283.0 95.9,283.5 93.4,284.0 90.9,284.6 88.5,285.1 86.0,285.7 83.5,286.2 81.1,286.8 78.6,287.3 76.1,287.8 73.7,288.3 71.2,288.7 68.8,289.2 66.3,289.7 63.8,290.1 61.4,290.6 58.9,291.0 56.4,291.5 54.0,291.9 51.5,292.4 49.0,292.8 46.6,293.2 44.1,293.6 41.7,294.0 39.2,294.4 36.7,294.8 34.3,295.2 31.8,295.6 30.8,295.6" fill="#aed1e7"/>
<polygon points="30.8,184.9 188.0,184.9 188.0,265.7 187.0,265.7 184.5,266.1 182.1,266.5 179.6,266.9 177.1,267.3 174.7,267.6 172.2,268.0 169.8,268.4 167.3,268.8 164.8,269.2 162.4,269.6 159.9,270.0 157.4,270.4 155.0,270.8 152.5,271.2 150.0,271.6 147.6,272.0 145.1,272.4 142.7,272.8 140.2,273.2 137.7,273.6 135.3,274.1 132.8,274.5 130.3,274.9 127.9,275.4 125.4,275.8 122.9,276.3 120.5,276.8 118.0,277.2 115.6,277.7 113.1,278.2 110.6,278.7 108.2,279.2 105.7,279.7 103.2,280.2 100.8,280.6 98.3,281.1 95.9,281.7 93.4,282.2 90.9,282.7 88.5,283.2 86.0,283.7 83.5,284.2 81.1,284.7 78.6,285.2 76.1,285.7 73.7,286.2 71.2,286.6 68.8,287.1 66.3,287.5 63.8,288.0 61.4,288.4 58.9,288.8 56.4,289.2 54.0,289.7 51.5,290.1 49.0,290.5 46.6,290.9 44.1,291.3 41.7,291.7 39.2,292.1 36.7,292.4 34.3,292.8 31.8,293.2 30.8,293.2" fill="#9dcae1"/>
<polygon points="30.8,184.9 188.0,184.9 188.0,264.3 187.0,264.3 184.5,264.7 182.1,265.1 179.6,265.4 177.1,265.8 174.7,266.2 172.2,266.6 169.8,267.0 167.3,267.3 164.8,267.7 162.4,268.1 159.9,268.5 157.4,268.9 155.0,269.3 152.5,269.7 150.0,270.1 147.6,270.5 145.1,270.9 142.7,271.3 140.2,271.7 137.7,272.1 135.3,272.5 132.8,272.9 130.3,273.3 127.9,273.7 125.4,274.2 122.9,274.6 120.5,275.1 118.0,275.6 115.6,276.0 113.1,276.5 110.6,277.0 108.2,277.4 105.7,277.9 103.2,278.4 100.8,278.8 98.3,279.3 95.9,279.8 93.4,280.3 90.9,280.8 88.5,281.3 86.0,281.7 83.5,282.2 81.1,282.7 78.6,283.2 76.1,283.6 73.7,284.1 71.2,284.5 68.8,284.9 66.3,285.4 63.8,285.8 61.4,286.2 58.9,286.6 56.4,287.0 54.0,287.4 51.5,287.8 49.0,288.2 46.6,288.6 44.1,289.0 41.7,289.3 39.2,289.7 36.7,290.1 34.3,290.4 31.8,290.8 30.8,290.8" fill="#8abfdd"/>
<polygon points="30.8,184.9 188.0,184.9 188.0,262.9 187.0,262.9 184.5,263.3 182.1,263.6 179.6,264.0 177.1,264.4 174.7,264.7 172.2,265.1 169.8,265.5 167.3,265.9 164.8,266.3 162.4,266.6 159.9,267.0 157.4,267.4 155.0,267.8 152.5,268.2 150.0,268.5 147.6,268.9 145.1,269.3 142.7,269.7 140.2,270.1 137.7,270.5 135.3,270.9 132.8,271.3 130.3,271.7 127.9,272.1 125.4,272.6 122.9,273.0 120.5,273.4 118.0,273.9 115.6,274.3 113.1,274.8 110.6,275.2 108.2,275.7 105.7,276.1 103.2,276.6 100.8,277.0 98.3,277.5 95.9,277.9 93.4,278.4 90.9,278.9 88.5,279.3 86.0,279.8 83.5,280.2 81.1,280.7 78.6,281.1 76.1,281.6 73.7,282.0 71.2,282.4 68.8,282.8 66.3,283.2 63.8,283.6 61.4,284.0 58.9,284.4 56.4,284.8 54.0,285.2 51.5,285.5 49.0,285.9 46.6,286.3 44.1,286.6 41.7,287.0 39.2,287.3 36.7,287.7 34.3,288.0 31.8,288.4 30.8,288.4" fill="#75b4d8"/>
<polygon points="30.8,184.9 188.0,184.9 188.0,261.5 187.0,261.5 184.5,261.9 182.1,262.2 179.6,262.6 177.1,262.9 174.7,263.3 172.2,263.7 169.8,264.0 167.3,264.4 164.8,264.8 162.4,265.1 159.9,265.5 157.4,265.9 155.0,266.3 152.5,266.6 150.0,267.0 147.6,267.4 145.1,267.8 142.7,268.1 140.2,268.5 137.7,268.9 135.3,269.3 132.8,269.7 130.3,270.1 127.9,270.5 125.4,270.9 122.9,271.3 120.5,271.8 118.0,272.2 115.6,272.6 113.1,273.1 110.6,273.5 108.2,273.9 105.7,274.4 103.2,274.8 100.8,275.2 98.3,275.6 95.9,276.1 93.4,276.5 90.9,276.9 88.5,277.4 86.0,277.8 83.5,278.2 81.1,278.7 78.6,279.1 76.1,279.5 73.7,279.9 71.2,280.3 68.8,280.7 66.3,281.0 63.8,281.4 61.4,281.8 58.9,282.2 56.4,282.5 54.0,282.9 51.5,283.3 49.0,283.6 46.6,284.0 44.1,284.3 41.7,284.7 39.2,285.0 36.7,285.3 34.3,285.6 31.8,286.0 30.8,286.0" fill="#63a8d3"/>
<polygon points="30.8,184.9 188.0,184.9 188.0,260.2 187.0,260.2 184.5,260.6 182.1,260.9 179.6,261.3 177.1,261.6 174.7,262.0 172.2,262.4 169.8,262.7 167.3,263.1 164.8,263.5 162.4,263.8 159.9,264.2 157.4,264.6 155.0,265.0 152.5,265.3 150.0,265.7 147.6,266.1 145.1,266.5 142.7,266.9 140.2,267.2 137.7,267.6 135.3,268.0 132.8,268.4 130.3,268.8 127.9,269.2 125.4,269.6 122.9,270.0 120.5,270.4 118.0,270.9 115.6,271.3 113.1,271.7 110.6,272.1 108.2,272.5 105.7,272.9 103.2,273.4 100.8,273.8 98.3,274.2 95.9,274.6 93.4,275.0 90.9,275.4 88.5,275.8 86.0,276.2 83.5,276.6 81.1,277.0 78.6,277.4 76.1,277.8 73.7,278.2 71.2,278.6 68.8,278.9 66.3,279.3 63.8,279.7 61.4,280.0 58.9,280.4 56.4,280.7 54.0,281.1 51.5,281.4 49.0,281.7 46.6,282.1 44.1,282.4 41.7,282.7 39.2,283.0 36.7,283.4 34.3,283.7 31.8,284.0 30.8,284.0" fill="#529dcc"/>
<polygon points="30.8,184.9 188.0,184.9 188.0,258.9 187.0,258.9 184.5,259.3 182.1,259.6 179.6,260.0 177.1,260.3 174.7,260.7 172.2,261.1 169.8,261.4 167.3,261.8 164.8,262.2 162.4,262.5 159.9,262.9 157.4,263.3 155.0,263.7 152.5,264.0 150.0,264.4 147.6,264.8 145.1,265.2 142.7,265.6 140.2,266.0 137.7,266.3 135.3,266.7 132.8,267.1 130.3,267.5 127.9,267.9 125.4,268.3 122.9,268.7 120.5,269.1 118.0,269.5 115.6,269.9 113.1,270.3 110.6,270.7 108.2,271.1 105.7,271.5 103.2,271.9 100.8,272.3 98.3,272.7 95.9,273.1 93.4,273.5 90.9,273.9 88.5,274.3 86.0,274.7 83.5,275.0 81.1,275.4 78.6,275.8 76.1,276.1 73.7,276.5 71.2,276.9 68.8,277.2 66.3,277.5 63.8,277.9 61.4,278.2 58.9,278.6 56.4,278.9 54.0,279.2 51.5,279.5 49.0,279.9 46.6,280.2 44.1,280.5 41.7,280.8 39.2,281.1 36.7,281.4 34.3,281.7 31.8,282.0 30.8,282.0" fill="#4191c6"/>
<polygon points="30.8,184.9 188.0,184.9 188.0,257.6 187.0,257.6 184.5,258.0 182.1,258.3 179.6,258.7 177.1,259.0 174.7,259.4 172.2,259.8 169.8,260.1 167.3,260.5 164.8,260.9 162.4,261.2 159.9,261.6 157.4,262.0 155.0,262.4 152.5,262.7 150.0,263.1 147.6,263.5 145.1,263.9 142.7,264.3 140.2,264.7 137.7,265.0 135.3,265.4 132.8,265.8 130.3,266.2 127.9,266.6 125.4,267.0 122.9,267.4 120.5,267.8 118.0,268.2 115.6,268.6 113.1,269.0 110.6,269.3 108.2,269.7 105.7,270.1 103.2,270.5 100.8,270.9 98.3,271.2 95.9,271.6 93.4,272.0 90.9,272.3 88.5,272.7 86.0,273.1 83.5,273.4 81.1,273.8 78.6,274.1 76.1,274.5 73.7,274.8 71.2,275.1 68.8,275.5 66.3,275.8 63.8,276.1 61.4,276.4 58.9,276.7 56.4,277.1 54.0,277.4 51.5,277.7 49.0,278.0 46.6,278.3 44.1,278.6 41.7,278.9 39.2,279.1 36.7,279.4 34.3,279.7 31.8,280.0 30.8,280.0" fill="#3585bf"/>
<polygon points="30.8,184.9 188.0,184.9 188.0,256.3 187.0,256.3 184.5,256.7 182.1,257.0 179.6,257.4 177.1,257.7 174.7,258.1 172.2,258.5 169.8,258.8 167.3,259.2 164.8,259.6 162.4,259.9 159.9,260.3 157.4,260.7 155.0,261.1 152.5,261.4 150.0,261.8 147.6,262.2 145.1,262.6 142.7,263.0 140.2,263.4 137.7,263.8 135.3,264.1 132.8,264.5 130.3,264.9 127.9,265.3 125.4,265.7 122.9,266.1 120.5,266.4 118.0,266.8 115.6,267.2 113.1,267.6 110.6,268.0 108.2,268.3 105.7,268.7 103.2,269.1 100.8,269.4 98.3,269.8 95.9,270.1 93.4,270.5 90.9,270.8 88.5,271.2 86.0,271.5 83.5,271.8 81.1,272.2 78.6,272.5 76.1,272.8 73.7,273.1 71.2,273.4 68.8,273.7 66.3,274.0 63.8,274.3 61.4,274.6 58.9,274.9 56.4,275.2 54.0,275.5 51.5,275.8 49.0,276.1 46.6,276.4 44.1,276.6 41.7,276.9 39.2,277.2 36.7,277.5 34.3,277.7 31.8,278.0 30.8,278.0" fill="#2777b8"/>
<polygon points="30.8,184.9 188.0,184.9 188.0,255.0 187.0,255.0 184.5,255.4 182.1,255.7 179.6,256.1 177.1,256.4 174.7,256.8 172.2,257.2 169.8,257.5 167.3,257.9 164.8,258.3 162.4,258.6 159.9,259.0 157.4,259.4 155.0,259.8 152.5,260.2 150.0,260.5 147.6,260.9 145.1,261.3 142.7,261.7 140.2,262.1 137.7,262.5 135.3,262.8 132.8,263.2 130.3,263.6 127.9,264.0 125.4,264.4 122.9,264.7 120.5,265.1 118.0,265.5 115.6,265.8 113.1,266.2 110.6,266.6 108.2,266.9 105.7,267.3 103.2,267.6 100.8,268.0 98.3,268.3 95.9,268.6 93.4,269.0 90.9,269.3 88.5,269.6 86.0,269.9 83.5,270.2 81.1,270.5 78.6,270.8 76.1,271.1 73.7,271.4 71.2,271.7 68.8,272.0 66.3,272.3 63.8,272.6 61.4,272.8 58.9,273.1 56.4,273.4 54.0,273.7 51.5,273.9 49.0,274.2 46.6,274.5 44.1,274.7 41.7,275.0 39.2,275.2 36.7,275.5 34.3,275.7 31.8,276.0 30.8,276.0" fill="#1c6ab0"/>
<polygon points="30.8,184.9 188.0,184.9 188.0,253.2 187.0,253.2 184.5,253.6 182.1,254.0 179.6,254.3 177.1,254.7 174.7,255.0 172.2,255.4 169.8,255.7 167.3,256.1 164.8,256.4 162.4,256.8 159.9,257.2 157.4,257.5 155.0,257.9 152.5,258.3 150.0,258.6 147.6,259.0 145.1,259.4 142.7,259.7 140.2,260.1 137.7,260.5 135.3,260.9 132.8,261.2 130.3,261.6 127.9,262.0 125.4,262.3 122.9,262.7 120.5,263.1 118.0,263.5 115.6,263.8 113.1,264.2 110.6,264.6 108.2,264.9 105.7,265.3 103.2,265.6 100.8,266.0 98.3,266.3 95.9,266.6 93.4,267.0 90.9,267.3 88.5,267.6 86.0,267.9 83.5,268.2 81.1,268.5 78.6,268.8 76.1,269.1 73.7,269.4 71.2,269.7 68.8,270.0 66.3,270.3 63.8,270.5 61.4,270.8 58.9,271.1 56.4,271.3 54.0,271.6 51.5,271.8 49.0,272.1 46.6,272.3 44.1,272.6 41.7,272.8 39.2,273.1 36.7,273.3 34.3,273.5 31.8,273.7 30.8,273.7" fill="#125da6"/>
<polygon points="30.8,184.9 188.0,184.9 188.0,251.5 187.0,251.5 184.5,251.8 182.1,252.2 179.6,252.5 177.1,252.9 174.7,253.2 172.2,253.6 169.8,253.9 167.3,254.3 164.8,254.6 162.4,255.0 159.9,255.3 157.4,255.7 155.0,256.0 152.5,256.4 150.0,256.7 147.6,257.1 145.1,257.4 142.7,257.8 140.2,258.2 137.7,258.5 135.3,258.9 132.8,259.2 130.3,259.6 127.9,260.0 125.4,260.3 122.9,260.7 120.5,261.1 118.0,261.5 115.6,261.8 113.1,262.2 110.6,262.6 108.2,262.9 105.7,263.3 103.2,263.6 100.8,264.0 98.3,264.3 95.9,264.6 93.4,265.0 90.9,265.3 88.5,265.6 86.0,265.9 83.5,266.3 81.1,266.6 78.6,266.9 76.1,267.1 73.7,267.4 71.2,267.7 68.8,268.0 66.3,268.2 63.8,268.5 61.4,268.8 58.9,269.0 56.4,269.3 54.0,269.5 51.5,269.7 49.0,270.0 46.6,270.2 44.1,270.4 41.7,270.7 39.2,270.9 36.7,271.1 34.3,271.3 31.8,271.5 30.8,271.5" fill="#08509b"/>
<polygon points="30.8,184.9 188.0,184.9 188.0,250.7 187.0,250.7 184.5,251.1 182.1,251.4 179.6,251.7 177.1,252.1 174.7,252.4 172.2,252.8 169.8,253.1 167.3,253.4 164.8,253.8 162.4,254.1 159.9,254.5 157.4,254.8 155.0,255.2 152.5,255.5 150.0,255.9 147.6,256.2 145.1,256.6 142.7,256.9 140.2,257.3 137.7,257.6 135.3,258.0 132.8,258.3 130.3,258.7 127.9,259.1 125.4,259.4 122.9,259.8 120.5,260.2 118.0,260.5 115.6,260.9 113.1,261.3 110.6,261.7 108.2,262.0 105.7,262.4 103.2,262.7 100.8,263.1 98.3,263.4 95.9,263.7 93.4,264.1 90.9,264.4 88.5,264.7 86.0,265.0 83.5,265.4 81.1,265.7 78.6,266.0 76.1,266.2 73.7,266.5 71.2,266.8 68.8,267.1 66.3,267.3 63.8,267.6 61.4,267.8 58.9,268.1 56.4,268.3 54.0,268.6 51.5,268.8 49.0,269.0 46.6,269.3 44.1,269.5 41.7,269.7 39.2,269.9 36.7,270.1 34.3,270.3 31.8,270.5 30.8,270.5" fill="#084488"/>
<polygon points="30.8,184.9 188.0,184.9 188.0,249.9 187.0,249.9 184.5,250.3 182.1,250.6 179.6,250.9 177.1,251.3 174.7,251.6 172.2,251.9 169.8,252.3 167.3,252.6 164.8,253.0 162.4,253.3 159.9,253.6 157.4,254.0 155.0,254.3 152.5,254.7 150.0,255.0 147.6,255.4 145.1,255.7 142.7,256.0 140.2,256.4 137.7,256.7 135.3,257.1 132.8,257.4 130.3,257.8 127.9,258.2 125.4,258.5 122.9,258.9 120.5,259.3 118.0,259.6 115.6,260.0 113.1,260.4 110.6,260.8 108.2,261.1 105.7,261.5 103.2,261.8 100.8,262.2 98.3,262.5 95.9,262.8 93.4,263.2 90.9,263.5 88.5,263.8 86.0,264.2 83.5,264.5 81.1,264.8 78.6,265.1 76.1,265.4 73.7,265.6 71.2,265.9 68.8,266.2 66.3,266.4 63.8,266.7 61.4,266.9 58.9,267.2 56.4,267.4 54.0,267.6 51.5,267.9 49.0,268.1 46.6,268.3 44.1,268.5 41.7,268.7 39.2,268.9 36.7,269.1 34.3,269.3 31.8,269.5 30.8,269.5" fill="#083674"/>
<linearGradient id="g10" x1="0" y1="0" x2="1" y2="1"><stop offset="0.04" stop-color="#f2f8fd"/><stop offset="0.16" stop-color="#9dcae1"/><stop offset="0.28" stop-color="#3585bf"/><stop offset="0.4" stop-color="#084488"/><stop offset="0.5" stop-color="#083674"/></linearGradient>
<rect x="31.80" y="185.90" width="3.5" height="3.0" fill="url(#g10)"/>
</g>
<rect x="31.80" y="185.90" width="155.20" height="120.50" fill="none" stroke="#111" stroke-width="0.8" stroke-opacity="0.8"/>
<path d="M31.80 306.40v3.0M52.10 306.40v3.0M78.94 306.40v3.0M99.25 306.40v3.0M119.55 306.40v3.0M146.39 306.40v3.0M166.70 306.40v3.0M187.00 306.40v3.0M31.80 288.26h-3.0M31.80 264.29h-3.0M31.80 246.15h-3.0M31.80 228.01h-3.0M31.80 204.04h-3.0M31.80 185.90h-3.0" stroke="#111" stroke-width="0.8" fill="none"/>
<path d="M63.98 306.40v2.0M72.41 306.40v2.0M84.28 306.40v2.0M88.80 306.40v2.0M92.71 306.40v2.0M96.16 306.40v2.0M131.43 306.40v2.0M139.86 306.40v2.0M151.73 306.40v2.0M156.25 306.40v2.0M160.16 306.40v2.0M163.61 306.40v2.0M31.80 277.65h-2.0M31.80 270.13h-2.0M31.80 259.52h-2.0M31.80 255.48h-2.0M31.80 251.99h-2.0M31.80 248.91h-2.0M31.80 217.40h-2.0M31.80 209.88h-2.0M31.80 199.27h-2.0M31.80 195.23h-2.0M31.80 191.74h-2.0M31.80 188.66h-2.0" stroke="#111" stroke-width="0.80" fill="none"/>
<text x="26.10" y="291.43" font-size="9.32" text-anchor="end" textLength="4.98" lengthAdjust="spacingAndGlyphs">2</text>
<text x="26.10" y="267.46" font-size="9.32" text-anchor="end" textLength="4.98" lengthAdjust="spacingAndGlyphs">5</text>
<text x="26.10" y="249.32" font-size="9.32" text-anchor="end" textLength="9.95" lengthAdjust="spacingAndGlyphs">10</text>
<text x="26.10" y="231.18" font-size="9.32" text-anchor="end" textLength="9.95" lengthAdjust="spacingAndGlyphs">20</text>
<text x="26.10" y="207.21" font-size="9.32" text-anchor="end" textLength="9.95" lengthAdjust="spacingAndGlyphs">50</text>
<text x="26.10" y="189.07" font-size="9.32" text-anchor="end" textLength="14.93" lengthAdjust="spacingAndGlyphs">100</text>
<text x="26.33" y="326.02" font-size="9.32" text-anchor="start" textLength="15.32" lengthAdjust="spacingAndGlyphs" transform="rotate(-30.00 26.33 326.02)">100</text>
<text x="46.63" y="326.02" font-size="9.32" text-anchor="start" textLength="15.32" lengthAdjust="spacingAndGlyphs" transform="rotate(-30.00 46.63 326.02)">200</text>
<text x="73.47" y="326.02" font-size="9.32" text-anchor="start" textLength="15.32" lengthAdjust="spacingAndGlyphs" transform="rotate(-30.00 73.47 326.02)">500</text>
<text x="90.46" y="329.85" font-size="9.32" text-anchor="start" textLength="22.98" lengthAdjust="spacingAndGlyphs" transform="rotate(-30.00 90.46 329.85)">1,000</text>
<text x="110.76" y="329.85" font-size="9.32" text-anchor="start" textLength="22.98" lengthAdjust="spacingAndGlyphs" transform="rotate(-30.00 110.76 329.85)">2,000</text>
<text x="137.60" y="329.85" font-size="9.32" text-anchor="start" textLength="22.98" lengthAdjust="spacingAndGlyphs" transform="rotate(-30.00 137.60 329.85)">5,000</text>
<text x="155.70" y="332.41" font-size="9.32" text-anchor="start" textLength="28.09" lengthAdjust="spacingAndGlyphs" transform="rotate(-30.00 155.70 332.41)">10,000</text>
<text x="176.00" y="332.41" font-size="9.32" text-anchor="start" textLength="28.09" lengthAdjust="spacingAndGlyphs" transform="rotate(-30.00 176.00 332.41)">20,000</text>
<text x="109.40" y="180.30" font-size="10.30" text-anchor="middle" textLength="77.14" lengthAdjust="spacingAndGlyphs">2-Neighborhood</text>
<text x="109.40" y="341.60" font-size="8.59" text-anchor="middle" textLength="68.88" lengthAdjust="spacingAndGlyphs">Number of nodes</text>
<text x="6.40" y="246.15" font-size="8.59" text-anchor="middle" textLength="63.25" lengthAdjust="spacingAndGlyphs" transform="rotate(-90.00 6.40 246.15)">Average degree</text>
<clipPath id="c11"><rect x="235.80" y="185.90" width="155.20" height="120.50"/></clipPath>
<g clip-path="url(#c11)">
<rect x="234.80" y="184.90" width="157.20" height="122.50" fill="#f2f8fd"/>
<polygon points="234.8,184.9 392.0,184.9 392.0,306.0 391.0,306.0 388.5,306.2 386.1,306.4 383.6,306.6 381.1,306.8 378.7,307.1 376.2,307.3 373.8,307.6 371.3,307.9 368.8,308.2 366.4,308.4 235.8,308.4 234.8,308.4" fill="#deebf7"/>
<polygon points="234.8,184.9 392.0,184.9 392.0,302.3 391.0,302.3 388.5,302.5 386.1,302.7 383.6,302.9 381.1,303.2 378.7,303.4 376.2,303.7 373.8,303.9 371.3,304.2 368.8,304.5 366.4,304.8 363.9,305.1 361.4,305.4 359.0,305.8 356.5,306.2 354.0,306.6 351.6,307.0 349.1,307.4 346.7,307.8 344.2,308.2 341.7,308.4 235.8,308.4 234.8,308.4" fill="#d5e5f4"/>
<polygon points="234.8,184.9 392.0,184.9 392.0,298.7 391.0,298.7 388.5,298.9 386.1,299.1 383.6,299.3 381.1,299.5 378.7,299.7 376.2,300.0 373.8,300.3 371.3,300.5 368.8,300.8 366.4,301.1 363.9,301.4 361.4,301.8 359.0,302.2 356.5,302.6 354.0,303.0 351.6,303.4 349.1,303.8 346.7,304.2 344.2,304.6 341.7,304.9 339.3,305.3 336.8,305.6 334.3,305.9 331.9,306.2 329.4,306.4 326.9,306.7 324.5,307.0 322.0,307.2 319.6,307.5 317.1,307.8 314.6,308.0 312.2,308.3 309.7,308.4 235.8,308.4 234.8,308.4" fill="#cbdef1"/>
<polygon points="234.8,184.9 392.0,184.9 392.0,295.0 391.0,295.0 388.5,295.2 386.1,295.4 383.6,295.6 381.1,295.8 378.7,296.1 376.2,296.3 373.8,296.6 371.3,296.9 368.8,297.2 366.4,297.5 363.9,297.8 361.4,298.1 359.0,298.5 356.5,298.9 354.0,299.3 351.6,299.7 349.1,300.2 346.7,300.6 344.2,300.9 341.7,301.3 339.3,301.6 336.8,301.9 334.3,302.1 331.9,302.4 329.4,302.6 326.9,302.9 324.5,303.1 322.0,303.3 319.6,303.6 317.1,303.8 314.6,304.0 312.2,304.3 309.7,304.5 307.2,304.7 304.8,304.9 302.3,305.2 299.9,305.4 297.4,305.6 294.9,305.9 292.5,306.2 290.0,306.4 287.5,306.7 285.1,307.0 282.6,307.3 280.1,307.7 277.7,308.1 275.2,308.4 235.8,308.4 234.8,308.4" fill="#bed8ec"/>
<polygon points="234.8,184.9 392.0,184.9 392.0,293.0 391.0,293.0 388.5,293.2 386.1,293.4 383.6,293.6 381.1,293.9 378.7,294.1 376.2,294.4 373.8,294.6 371.3,294.9 368.8,295.2 366.4,295.5 363.9,295.8 361.4,296.1 359.0,296.5 356.5,296.8 354.0,297.2 351.6,297.6 349.1,298.0 346.7,298.4 344.2,298.7 341.7,299.0 339.3,299.3 336.8,299.6 334.3,299.9 331.9,300.2 329.4,300.4 326.9,300.7 324.5,300.9 322.0,301.1 319.6,301.4 317.1,301.6 314.6,301.8 312.2,302.0 309.7,302.2 307.2,302.3 304.8,302.5 302.3,302.7 299.9,302.9 297.4,303.1 294.9,303.3 292.5,303.6 290.0,303.8 287.5,304.0 285.1,304.3 282.6,304.6 280.1,304.9 277.7,305.3 275.2,305.7 272.8,306.2 270.3,306.6 267.8,306.9 265.4,307.1 262.9,307.3 260.4,307.5 258.0,307.6 255.5,307.8 253.0,307.9 250.6,308.1 248.1,308.2 245.7,308.3 243.2,308.4 235.8,308.4 234.8,308.4" fill="#aed1e7"/>
<polygon points="234.8,184.9 392.0,184.9 392.0,291.0 391.0,291.0 388.5,291.2 386.1,291.4 383.6,291.7 381.1,291.9 378.7,292.1 376.2,292.4 373.8,292.6 371.3,292.9 368.8,293.2 366.4,293.5 363.9,293.8 361.4,294.1 359.0,294.4 356.5,294.7 354.0,295.1 351.6,295.5 349.1,295.8 346.7,296.2 344.2,296.5 341.7,296.8 339.3,297.1 336.8,297.4 334.3,297.6 331.9,297.9 329.4,298.2 326.9,298.4 324.5,298.7 322.0,298.9 319.6,299.1 317.1,299.3 314.6,299.5 312.2,299.7 309.7,299.8 307.2,300.0 304.8,300.1 302.3,300.3 299.9,300.4 297.4,300.6 294.9,300.8 292.5,301.0 290.0,301.2 287.5,301.4 285.1,301.6 282.6,301.9 280.1,302.1 277.7,302.5 275.2,302.9 272.8,303.3 270.3,303.6 267.8,303.9 265.4,304.1 262.9,304.2 260.4,304.3 258.0,304.4 255.5,304.5 253.0,304.6 250.6,304.7 248.1,304.8 245.7,304.9 243.2,304.9 235.8,305.0 234.8,305.0" fill="#9dcae1"/>
<polygon points="234.8,184.9 392.0,184.9 392.0,289.3 391.0,289.3 388.5,289.5 386.1,289.8 383.6,290.0 381.1,290.2 378.7,290.5 376.2,290.7 373.8,291.0 371.3,291.2 368.8,291.5 366.4,291.8 363.9,292.1 361.4,292.4 359.0,292.7 356.5,293.1 354.0,293.4 351.6,293.8 349.1,294.2 346.7,294.5 344.2,294.8 341.7,295.1 339.3,295.4 336.8,295.7 334.3,295.9 331.9,296.2 329.4,296.5 326.9,296.7 324.5,296.9 322.0,297.1 319.6,297.3 317.1,297.5 314.6,297.7 312.2,297.8 309.7,298.0 307.2,298.1 304.8,298.2 302.3,298.3 299.9,298.4 297.4,298.6 294.9,298.7 292.5,298.9 290.0,299.1 287.5,299.3 285.1,299.5 282.6,299.7 280.1,299.9 277.7,300.3 275.2,300.6 272.8,301.0 270.3,301.4 267.8,301.6 265.4,301.7 262.9,301.8 260.4,301.9 258.0,302.0 255.5,302.0 253.0,302.1 250.6,302.2 248.1,302.2 235.8,302.3 234.8,302.3" fill="#8abfdd"/>
<polygon points="234.8,184.9 392.0,184.9 392.0,287.7 391.0,287.7 388.5,287.9 386.1,288.1 383.6,288.3 381.1,288.6 378.7,288.8 376.2,289.1 373.8,289.3 371.3,289.6 368.8,289.8 366.4,290.1 363.9,290.4 361.4,290.7 359.0,291.1 356.5,291.4 354.0,291.8 351.6,292.2 349.1,292.5 346.7,292.9 344.2,293.2 341.7,293.5 339.3,293.7 336.8,294.0 334.3,294.3 331.9,294.5 329.4,294.7 326.9,295.0 324.5,295.2 322.0,295.4 319.6,295.6 317.1,295.7 314.6,295.9 312.2,296.0 309.7,296.1 307.2,296.2 304.8,296.2 302.3,296.3 299.9,296.4 297.4,296.6 294.9,296.7 292.5,296.9 290.0,297.0 287.5,297.2 285.1,297.4 282.6,297.6 280.1,297.8 277.7,298.1 275.2,298.4 272.8,298.8 270.3,299.1 267.8,299.3 265.4,299.4 235.8,299.7 234.8,299.7" fill="#75b4d8"/>
<polygon points="234.8,184.9 392.0,184.9 392.0,286.0 391.0,286.0 388.5,286.2 386.1,286.4 383.6,286.7 381.1,286.9 378.7,287.1 376.2,287.4 373.8,287.6 371.3,287.9 368.8,288.2 366.4,288.5 363.9,288.8 361.4,289.1 359.0,289.4 356.5,289.8 354.0,290.1 351.6,290.5 349.1,290.9 346.7,291.2 344.2,291.5 341.7,291.8 339.3,292.1 336.8,292.3 334.3,292.6 331.9,292.8 329.4,293.0 326.9,293.2 324.5,293.4 322.0,293.6 319.6,293.8 317.1,293.9 314.6,294.0 312.2,294.1 309.7,294.2 307.2,294.2 304.8,294.3 302.3,294.4 299.9,294.5 297.4,294.6 294.9,294.7 292.5,294.8 290.0,294.9 287.5,295.1 285.1,295.2 282.6,295.4 280.1,295.6 277.7,295.9 275.2,296.2 272.8,296.5 270.3,296.8 267.8,297.0 235.8,297.0 234.8,297.0" fill="#63a8d3"/>
<polygon points="234.8,184.9 392.0,184.9 392.0,284.3 391.0,284.3 388.5,284.5 386.1,284.7 383.6,285.0 381.1,285.2 378.7,285.5 376.2,285.7 373.8,286.0 371.3,286.3 368.8,286.6 366.4,286.9 363.9,287.2 361.4,287.5 359.0,287.9 356.5,288.2 354.0,288.6 351.6,289.0 349.1,289.3 346.7,289.7 344.2,290.0 341.7,290.3 339.3,290.6 336.8,290.8 334.3,291.1 331.9,291.3 329.4,291.5 326.9,291.7 324.5,291.9 322.0,292.1 319.6,292.3 317.1,292.4 314.6,292.5 312.2,292.6 309.7,292.7 307.2,292.7 304.8,292.8 302.3,292.9 299.9,293.0 297.4,293.1 294.9,293.2 292.5,293.3 290.0,293.5 287.5,293.6 285.1,293.8 282.6,294.0 280.1,294.2 277.7,294.5 275.2,294.9 272.8,295.2 270.3,295.5 267.8,295.7 235.8,295.7 234.8,295.7" fill="#529dcc"/>
<polygon points="234.8,184.9 392.0,184.9 392.0,282.6 391.0,282.6 388.5,282.8 386.1,283.1 383.6,283.3 381.1,283.6 378.7,283.8 376.2,284.1 373.8,284.4 371.3,284.7 368.8,285.0 366.4,285.3 363.9,285.6 361.4,285.9 359.0,286.3 356.5,286.7 354.0,287.1 351.6,287.4 349.1,287.8 346.7,288.2 344.2,288.5 341.7,288.8 339.3,289.1 336.8,289.3 334.3,289.6 331.9,289.8 329.4,290.0 326.9,290.2 324.5,290.4 322.0,290.6 319.6,290.8 317.1,290.9 314.6,291.0 312.2,291.1 309.7,291.2 307.2,291.2 304.8,291.3 302.3,291.4 299.9,291.5 297.4,291.6 294.9,291.7 292.5,291.8 290.0,292.0 287.5,292.2 285.1,292.4 282.6,292.6 280.1,292.8 277.7,293.1 275.2,293.5 272.8,293.9 270.3,294.2 267.8,294.4 235.8,294.4 234.8,294.4" fill="#4191c6"/>
<polygon points="234.8,184.9 392.0,184.9 392.0,280.9 391.0,280.9 388.5,281.1 386.1,281.4 383.6,281.6 381.1,281.9 378.7,282.2 376.2,282.5 373.8,282.7 371.3,283.0 368.8,283.3 366.4,283.7 363.9,284.0 361.4,284.3 359.0,284.7 356.5,285.1 354.0,285.5 351.6,285.9 349.1,286.3 346.7,286.7 344.2,287.0 341.7,287.3 339.3,287.6 336.8,287.8 334.3,288.1 331.9,288.3 329.4,288.5 326.9,288.7 324.5,288.9 322.0,289.1 319.6,289.3 317.1,289.4 314.6,289.5 312.2,289.6 309.7,289.7 307.2,289.7 304.8,289.8 302.3,289.9 299.9,290.0 297.4,290.1 294.9,290.2 292.5,290.4 290.0,290.5 287.5,290.7 285.1,290.9 282.6,291.2 280.1,291.4 277.7,291.8 275.2,292.2 272.8,292.6 270.3,292.9 267.8,293.1 235.8,293.1 234.8,293.1" fill="#3585bf"/>
<polygon points="234.8,184.9 392.0,184.9 392.0,279.2 391.0,279.2 388.5,279.4 386.1,279.7 383.6,280.0 381.1,280.2 378.7,280.5 376.2,280.8 373.8,281.1 371.3,281.4 368.8,281.7 366.4,282.1 363.9,282.4 361.4,282.8 359.0,283.1 356.5,283.6 354.0,284.0 351.6,284.4 349.1,284.8 346.7,285.1 344.2,285.5 341.7,285.8 339.3,286.1 336.8,286.3 334.3,286.6 331.9,286.8 329.4,287.0 326.9,287.2 324.5,287.4 322.0,287.6 319.6,287.8 317.1,287.9 314.6,288.0 312.2,288.1 309.7,288.2 307.2,288.2 304.8,288.3 302.3,288.4 299.9,288.5 297.4,288.6 294.9,288.7 292.5,288.9 290.0,289.1 287.5,289.3 285.1,289.5 282.6,289.8 280.1,290.0 277.7,290.4 275.2,290.8 272.8,291.2 270.3,291.6 267.8,291.8 235.8,291.8 234.8,291.8" fill="#2777b8"/>
<polygon points="234.8,184.9 392.0,184.9 392.0,277.5 391.0,277.5 388.5,277.8 386.1,278.0 383.6,278.3 381.1,278.6 378.7,278.9 376.2,279.2 373.8,279.5 371.3,279.8 368.8,280.1 366.4,280.5 363.9,280.8 361.4,281.2 359.0,281.6 356.5,282.0 354.0,282.4 351.6,282.8 349.1,283.2 346.7,283.6 344.2,284.0 341.7,284.3 339.3,284.6 336.8,284.8 334.3,285.1 331.9,285.3 329.4,285.5 326.9,285.7 324.5,285.9 322.0,286.1 319.6,286.3 317.1,286.4 314.6,286.5 312.2,286.6 309.7,286.7 307.2,286.7 304.8,286.8 302.3,286.9 299.9,287.0 297.4,287.1 294.9,287.2 292.5,287.4 290.0,287.6 287.5,287.8 285.1,288.1 282.6,288.4 280.1,288.6 277.7,289.0 275.2,289.5 272.8,289.9 270.3,290.3 267.8,290.5 235.8,290.5 234.8,290.5" fill="#1c6ab0"/>
<polygon points="234.8,184.9 392.0,184.9 392.0,274.8 391.0,274.8 388.5,275.0 386.1,275.3 383.6,275.7 381.1,276.0 378.7,276.3 376.2,276.6 373.8,276.9 371.3,277.3 368.8,277.6 366.4,277.9 363.9,278.3 361.4,278.7 359.0,279.1 356.5,279.5 354.0,280.0 351.6,280.4 349.1,280.8 346.7,281.2 344.2,281.5 341.7,281.8 339.3,282.1 336.8,282.3 334.3,282.5 331.9,282.7 329.4,282.9 326.9,283.1 324.5,283.2 322.0,283.4 319.6,283.5 317.1,283.7 314.6,283.8 312.2,283.9 309.7,283.9 307.2,284.0 304.8,284.0 302.3,284.1 299.9,284.2 297.4,284.3 294.9,284.5 292.5,284.7 290.0,284.9 287.5,285.2 285.1,285.5 282.6,285.8 280.1,286.2 277.7,286.7 275.2,287.4 272.8,288.1 270.3,288.8 267.8,289.2 265.4,289.3 262.9,289.4 260.4,289.4 258.0,289.5 255.5,289.5 235.8,289.7 234.8,289.7" fill="#125da6"/>
<polygon points="234.8,184.9 392.0,184.9 392.0,272.0 391.0,272.0 388.5,272.3 386.1,272.7 383.6,273.0 381.1,273.3 378.7,273.7 376.2,274.0 373.8,274.4 371.3,274.7 368.8,275.1 366.4,275.4 363.9,275.8 361.4,276.2 359.0,276.6 356.5,277.1 354.0,277.5 351.6,277.9 349.1,278.3 346.7,278.7 344.2,279.1 341.7,279.3 339.3,279.6 336.8,279.8 334.3,279.9 331.9,280.1 329.4,280.3 326.9,280.4 324.5,280.6 322.0,280.7 319.6,280.8 317.1,280.9 314.6,281.0 312.2,281.1 309.7,281.2 307.2,281.2 304.8,281.3 302.3,281.4 299.9,281.5 297.4,281.6 294.9,281.7 292.5,282.0 290.0,282.2 287.5,282.5 285.1,282.9 282.6,283.3 280.1,283.7 277.7,284.5 275.2,285.4 272.8,286.4 270.3,287.3 267.8,287.9 265.4,288.1 262.9,288.2 260.4,288.4 258.0,288.5 255.5,288.6 253.0,288.7 250.6,288.8 248.1,288.8 245.7,288.9 235.8,289.0 234.8,289.0" fill="#08509b"/>
<polygon points="234.8,184.9 392.0,184.9 392.0,270.8 391.0,270.8 388.5,271.1 386.1,271.5 383.6,271.8 381.1,272.2 378.7,272.5 376.2,272.9 373.8,273.2 371.3,273.6 368.8,274.0 366.4,274.3 363.9,274.7 361.4,275.1 359.0,275.5 356.5,276.0 354.0,276.4 351.6,276.8 349.1,277.2 346.7,277.6 344.2,277.9 341.7,278.2 339.3,278.4 336.8,278.6 334.3,278.8 331.9,279.0 329.4,279.1 326.9,279.2 324.5,279.4 322.0,279.5 319.6,279.6 317.1,279.7 314.6,279.8 312.2,279.9 309.7,279.9 307.2,280.0 304.8,280.0 302.3,280.1 299.9,280.2 297.4,280.3 294.9,280.5 292.5,280.7 290.0,281.0 287.5,281.3 285.1,281.7 282.6,282.1 280.1,282.6 277.7,283.4 275.2,284.5 272.8,285.6 270.3,286.6 267.8,287.3 265.4,287.5 262.9,287.7 260.4,287.9 258.0,288.0 255.5,288.2 253.0,288.3 250.6,288.4 248.1,288.5 245.7,288.5 243.2,288.6 235.8,288.7 234.8,288.7" fill="#084488"/>
<polygon points="234.8,184.9 392.0,184.9 392.0,269.5 391.0,269.5 388.5,269.9 386.1,270.2 383.6,270.6 381.1,271.0 378.7,271.3 376.2,271.7 373.8,272.1 371.3,272.4 368.8,272.8 366.4,273.2 363.9,273.6 361.4,274.0 359.0,274.4 356.5,274.9 354.0,275.3 351.6,275.7 349.1,276.1 346.7,276.5 344.2,276.8 341.7,277.1 339.3,277.3 336.8,277.5 334.3,277.6 331.9,277.8 329.4,277.9 326.9,278.0 324.5,278.1 322.0,278.3 319.6,278.3 317.1,278.4 314.6,278.5 312.2,278.6 309.7,278.7 307.2,278.7 304.8,278.8 302.3,278.9 299.9,279.0 297.4,279.1 294.9,279.3 292.5,279.5 290.0,279.8 287.5,280.2 285.1,280.5 282.6,281.0 280.1,281.5 277.7,282.4 275.2,283.6 272.8,284.8 270.3,285.9 267.8,286.7 265.4,287.0 262.9,287.2 260.4,287.4 258.0,287.6 255.5,287.7 253.0,287.9 250.6,288.0 248.1,288.1 245.7,288.2 243.2,288.2 235.8,288.3 234.8,288.3" fill="#083674"/>
<linearGradient id="g11" x1="0" y1="0" x2="1" y2="1"><stop offset="0.04" stop-color="#f2f8fd"/><stop offset="0.16" stop-color="#9dcae1"/><stop offset="0.28" stop-color="#3585bf"/><stop offset="0.4" stop-color="#084488"/><stop offset="0.5" stop-color="#083674"/></linearGradient>
<rect x="235.80" y="185.90" width="10.5" height="8.8" fill="url(#g11)"/>
</g>
<rect x="235.80" y="185.90" width="155.20" height="120.50" fill="none" stroke="#111" stroke-width="0.8" stroke-opacity="0.8"/>
<path d="M235.80 306.40v3.0M256.10 306.40v3.0M282.94 306.40v3.0M303.25 306.40v3.0M323.55 306.40v3.0M350.39 306.40v3.0M370.70 306.40v3.0M391.00 306.40v3.0M235.80 288.26h-3.0M235.80 264.29h-3.0M235.80 246.15h-3.0M235.80 228.01h-3.0M235.80 204.04h-3.0M235.80 185.90h-3.0" stroke="#111" stroke-width="0.8" fill="none"/>
<path d="M267.98 306.40v2.0M276.41 306.40v2.0M288.28 306.40v2.0M292.80 306.40v2.0M296.71 306.40v2.0M300.16 306.40v2.0M335.43 306.40v2.0M343.86 306.40v2.0M355.73 306.40v2.0M360.25 306.40v2.0M364.16 306.40v2.0M367.61 306.40v2.0M235.80 277.65h-2.0M235.80 270.13h-2.0M235.80 259.52h-2.0M235.80 255.48h-2.0M235.80 251.99h-2.0M235.80 248.91h-2.0M235.80 217.40h-2.0M235.80 209.88h-2.0M235.80 199.27h-2.0M235.80 195.23h-2.0M235.80 191.74h-2.0M235.80 188.66h-2.0" stroke="#111" stroke-width="0.80" fill="none"/>
<text x="230.10" y="291.43" font-size="9.32" text-anchor="end" textLength="4.98" lengthAdjust="spacingAndGlyphs">2</text>
<text x="230.10" y="267.46" font-size="9.32" text-anchor="end" textLength="4.98" lengthAdjust="spacingAndGlyphs">5</text>
<text x="230.10" y="249.32" font-size="9.32" text-anchor="end" textLength="9.95" lengthAdjust="spacingAndGlyphs">10</text>
<text x="230.10" y="231.18" font-size="9.32" text-anchor="end" textLength="9.95" lengthAdjust="spacingAndGlyphs">20</text>
<text x="230.10" y="207.21" font-size="9.32" text-anchor="end" textLength="9.95" lengthAdjust="spacingAndGlyphs">50</text>
<text x="230.10" y="189.07" font-size="9.32" text-anchor="end" textLength="14.93" lengthAdjust="spacingAndGlyphs">100</text>
<text x="230.33" y="326.02" font-size="9.32" text-anchor="start" textLength="15.32" lengthAdjust="spacingAndGlyphs" transform="rotate(-30.00 230.33 326.02)">100</text>
<text x="250.63" y="326.02" font-size="9.32" text-anchor="start" textLength="15.32" lengthAdjust="spacingAndGlyphs" transform="rotate(-30.00 250.63 326.02)">200</text>
<text x="277.47" y="326.02" font-size="9.32" text-anchor="start" textLength="15.32" lengthAdjust="spacingAndGlyphs" transform="rotate(-30.00 277.47 326.02)">500</text>
<text x="294.46" y="329.85" font-size="9.32" text-anchor="start" textLength="22.98" lengthAdjust="spacingAndGlyphs" transform="rotate(-30.00 294.46 329.85)">1,000</text>
<text x="314.76" y="329.85" font-size="9.32" text-anchor="start" textLength="22.98" lengthAdjust="spacingAndGlyphs" transform="rotate(-30.00 314.76 329.85)">2,000</text>
<text x="341.60" y="329.85" font-size="9.32" text-anchor="start" textLength="22.98" lengthAdjust="spacingAndGlyphs" transform="rotate(-30.00 341.60 329.85)">5,000</text>
<text x="359.70" y="332.41" font-size="9.32" text-anchor="start" textLength="28.09" lengthAdjust="spacingAndGlyphs" transform="rotate(-30.00 359.70 332.41)">10,000</text>
<text x="380.00" y="332.41" font-size="9.32" text-anchor="start" textLength="28.09" lengthAdjust="spacingAndGlyphs" transform="rotate(-30.00 380.00 332.41)">20,000</text>
<text x="313.40" y="180.30" font-size="10.30" text-anchor="middle" textLength="77.14" lengthAdjust="spacingAndGlyphs">2-Neighborhood</text>
<text x="313.40" y="341.60" font-size="8.59" text-anchor="middle" textLength="68.88" lengthAdjust="spacingAndGlyphs">Number of nodes</text>
<text x="209.80" y="246.15" font-size="8.59" text-anchor="middle" textLength="7.89" lengthAdjust="spacingAndGlyphs" font-style="italic" transform="rotate(-90.00 209.80 246.15)">m</text>
<clipPath id="c12"><rect x="439.80" y="185.90" width="155.20" height="120.50"/></clipPath>
<g clip-path="url(#c12)">
<rect x="438.80" y="184.90" width="157.20" height="122.50" fill="#f2f8fd"/>
<polygon points="438.8,184.9 596.0,184.9 596.0,292.4 594.8,292.4 590.8,292.4 590.3,292.5 495.8,292.6 495.3,308.4 439.8,308.4 438.8,308.4" fill="#e8f1fa"/>
<polygon points="438.8,184.9 596.0,184.9 596.0,291.4 594.8,291.4 590.8,291.4 590.3,291.6 577.3,291.6 576.8,291.7 564.3,291.7 563.8,291.8 552.8,291.8 552.3,291.9 541.3,291.9 540.8,291.9 529.3,291.9 528.8,292.0 519.3,292.0 518.8,292.1 495.8,292.1 495.3,292.6 469.3,292.6 468.8,308.4 439.8,308.4 438.8,308.4" fill="#deebf7"/>
<polygon points="438.8,184.9 596.0,184.9 596.0,290.4 594.8,290.4 590.8,290.4 590.3,290.7 577.3,290.7 576.8,290.9 564.3,290.9 563.8,291.1 552.8,291.1 552.3,291.2 541.3,291.2 540.8,291.3 529.3,291.3 528.8,291.4 519.3,291.4 518.8,291.5 507.3,291.5 506.8,291.6 495.8,291.7 495.3,292.1 469.3,292.2 468.8,292.6 453.8,292.6 453.3,308.4 439.8,308.4 438.8,308.4" fill="#d5e5f4"/>
<polygon points="438.8,184.9 596.0,184.9 596.0,289.4 594.8,289.4 590.8,289.4 590.3,289.8 577.3,289.8 576.8,290.1 564.3,290.1 563.8,290.4 552.8,290.4 552.3,290.5 541.3,290.5 540.8,290.7 529.3,290.7 528.8,290.9 519.3,290.9 518.8,291.0 507.3,291.0 506.8,291.1 497.3,291.1 496.8,291.2 495.8,291.2 495.3,291.6 478.3,291.6 477.8,291.7 469.3,291.7 468.8,292.1 453.8,292.1 453.3,308.4 439.8,308.4 438.8,308.4" fill="#cbdef1"/>
<polygon points="438.8,184.9 596.0,184.9 596.0,288.4 594.8,288.4 590.8,288.4 590.3,289.0 577.3,289.0 576.8,289.3 564.3,289.3 563.8,289.6 552.8,289.6 552.3,289.8 541.3,289.8 540.8,290.1 529.3,290.1 528.8,290.3 519.3,290.3 518.8,290.5 507.3,290.5 506.8,290.6 497.3,290.6 496.8,290.7 495.8,290.7 495.3,291.1 486.3,291.1 485.8,291.1 478.3,291.1 477.8,291.2 469.3,291.2 468.8,291.6 453.8,291.6 453.3,292.4 439.8,292.4 438.8,292.4" fill="#bed8ec"/>
<polygon points="438.8,184.9 596.0,184.9 596.0,287.4 594.8,287.4 590.8,287.4 590.3,288.1 577.3,288.1 576.8,288.5 564.3,288.5 563.8,288.9 552.8,288.9 552.3,289.2 541.3,289.2 540.8,289.4 529.3,289.4 528.8,289.7 519.3,289.7 518.8,290.0 507.3,290.0 506.8,290.1 497.3,290.1 496.8,290.2 495.8,290.2 495.3,290.6 486.3,290.6 485.8,290.7 478.3,290.7 477.8,290.8 469.3,290.8 468.8,291.1 453.8,291.1 453.3,291.8 439.8,291.8 438.8,291.8" fill="#aed1e7"/>
<polygon points="438.8,184.9 596.0,184.9 596.0,286.4 594.8,286.4 590.8,286.4 590.3,287.2 577.3,287.2 576.8,287.8 564.3,287.8 563.8,288.2 552.8,288.2 552.3,288.5 541.3,288.5 540.8,288.8 529.3,288.8 528.8,289.2 519.3,289.2 518.8,289.4 507.3,289.4 506.8,289.6 497.3,289.6 496.8,289.7 495.8,289.7 495.3,290.1 486.3,290.1 485.8,290.2 478.3,290.2 477.8,290.3 469.3,290.3 468.8,290.7 453.8,290.7 453.3,291.3 439.8,291.3 438.8,291.3" fill="#9dcae1"/>
<polygon points="438.8,184.9 596.0,184.9 596.0,285.4 594.8,285.4 590.8,285.4 590.3,286.3 577.3,286.3 576.8,287.0 564.3,287.0 563.8,287.5 552.8,287.5 552.3,287.8 541.3,287.8 540.8,288.2 529.3,288.2 528.8,288.6 519.3,288.6 518.8,288.9 507.3,288.9 506.8,289.1 497.3,289.1 496.8,289.3 495.8,289.3 495.3,289.6 486.3,289.6 485.8,289.7 478.3,289.7 477.8,289.9 469.3,289.9 468.8,290.2 453.8,290.2 453.3,290.8 439.8,290.8 438.8,290.8" fill="#8abfdd"/>
<polygon points="438.8,184.9 596.0,184.9 596.0,277.9 594.8,277.9 590.8,277.9 590.3,285.5 577.3,285.5 576.8,286.2 564.3,286.2 563.8,286.8 552.8,286.8 552.3,287.2 541.3,287.2 540.8,287.6 529.3,287.6 528.8,288.0 519.3,288.0 518.8,288.4 507.3,288.4 506.8,288.7 497.3,288.7 496.8,288.8 495.8,288.8 495.3,289.1 486.3,289.1 485.8,289.2 478.3,289.2 477.8,289.4 469.3,289.4 468.8,289.7 453.8,289.7 453.3,290.2 439.8,290.2 438.8,290.2" fill="#75b4d8"/>
<polygon points="438.8,184.9 596.0,184.9 596.0,277.4 594.8,277.4 590.8,277.4 590.3,284.6 577.3,284.6 576.8,285.4 564.3,285.4 563.8,286.0 552.8,286.0 552.3,286.5 541.3,286.5 540.8,287.0 529.3,287.0 528.8,287.4 519.3,287.4 518.8,287.9 507.3,287.9 506.8,288.2 497.3,288.2 496.8,288.3 495.8,288.3 495.3,288.5 486.3,288.5 485.8,288.7 478.3,288.7 477.8,288.9 469.3,288.9 468.8,289.2 453.8,289.2 453.3,289.7 439.8,289.7 438.8,289.7" fill="#63a8d3"/>
<polygon points="438.8,184.9 596.0,184.9 596.0,276.8 594.8,276.8 590.8,276.8 590.3,277.4 577.3,277.4 576.8,284.6 564.3,284.6 563.8,285.3 552.8,285.3 552.3,285.8 541.3,285.8 540.8,286.3 529.3,286.3 528.8,286.9 519.3,286.9 518.8,287.3 507.3,287.3 506.8,287.7 497.3,287.7 496.8,287.8 495.8,287.8 495.3,288.0 486.3,288.0 485.8,288.2 478.3,288.2 477.8,288.5 469.3,288.5 468.8,288.7 453.8,288.7 453.3,289.1 439.8,289.1 438.8,289.1" fill="#529dcc"/>
<polygon points="438.8,184.9 596.0,184.9 596.0,276.3 594.8,276.3 590.8,276.3 590.3,276.8 577.3,276.8 576.8,277.3 564.3,277.3 563.8,284.6 552.8,284.6 552.3,285.1 541.3,285.1 540.8,285.7 529.3,285.7 528.8,286.3 519.3,286.3 518.8,286.8 507.3,286.8 506.8,287.2 497.3,287.2 496.8,287.4 495.8,287.4 495.3,287.5 486.3,287.5 485.8,287.7 478.3,287.7 477.8,288.0 469.3,288.0 468.8,288.2 453.8,288.2 453.3,288.6 439.8,288.6 438.8,288.6" fill="#4191c6"/>
<polygon points="438.8,184.9 596.0,184.9 596.0,275.8 594.8,275.8 590.8,275.8 590.3,276.2 577.3,276.2 576.8,276.7 564.3,276.7 563.8,277.3 552.8,277.3 552.3,277.8 541.3,277.8 540.8,285.1 529.3,285.1 528.8,285.7 519.3,285.7 518.8,286.3 507.3,286.3 506.8,286.7 497.3,286.7 496.8,286.9 495.8,286.9 495.3,287.0 486.3,287.0 485.8,287.2 478.3,287.2 477.8,287.5 469.3,287.5 468.8,287.7 453.8,287.7 453.3,288.1 439.8,288.1 438.8,288.1" fill="#3585bf"/>
<polygon points="438.8,184.9 596.0,184.9 596.0,275.3 594.8,275.3 590.8,275.3 590.3,275.6 577.3,275.6 576.8,276.0 564.3,276.0 563.8,276.5 552.8,276.5 552.3,277.0 541.3,277.0 540.8,277.8 529.3,277.8 528.8,285.2 519.3,285.2 518.8,285.8 507.3,285.8 506.8,286.2 497.3,286.2 496.8,286.4 495.8,286.4 495.3,286.5 486.3,286.5 485.8,286.7 478.3,286.7 477.8,287.1 469.3,287.1 468.8,287.2 453.8,287.2 453.3,287.5 439.8,287.5 438.8,287.5" fill="#2777b8"/>
<polygon points="438.8,184.9 596.0,184.9 596.0,274.8 594.8,274.8 590.8,274.8 590.3,275.1 577.3,275.1 576.8,275.4 564.3,275.4 563.8,275.8 552.8,275.8 552.3,276.2 541.3,276.2 540.8,276.8 529.3,276.8 528.8,284.6 519.3,284.6 518.8,285.2 507.3,285.2 506.8,285.7 497.3,285.7 496.8,285.9 495.8,285.9 495.3,286.0 486.3,286.0 485.8,286.3 478.3,286.3 477.8,286.6 469.3,286.6 468.8,286.7 453.8,286.7 453.3,287.0 439.8,287.0 438.8,287.0" fill="#1c6ab0"/>
<polygon points="438.8,184.9 596.0,184.9 596.0,274.2 594.8,274.2 590.8,274.2 590.3,274.5 577.3,274.5 576.8,274.7 564.3,274.7 563.8,275.0 552.8,275.0 552.3,275.3 541.3,275.3 540.8,275.8 529.3,275.8 528.8,276.8 519.3,276.8 518.8,284.7 507.3,284.7 506.8,285.2 497.3,285.2 496.8,285.5 495.8,285.5 495.3,285.5 486.3,285.5 485.8,285.8 478.3,285.8 477.8,286.2 469.3,286.2 468.8,286.3 453.8,286.3 453.3,286.4 439.8,286.4 438.8,286.4" fill="#125da6"/>
<polygon points="438.8,184.9 596.0,184.9 596.0,273.7 594.8,273.7 590.8,273.7 590.3,273.9 577.3,273.9 576.8,274.0 564.3,274.0 563.8,274.3 552.8,274.3 552.3,274.5 541.3,274.5 540.8,274.9 529.3,274.9 528.8,275.5 519.3,275.5 518.8,276.6 507.3,276.6 506.8,284.7 497.3,284.7 496.8,285.0 486.3,285.0 485.8,285.3 478.3,285.3 477.8,285.7 469.3,285.7 468.8,285.8 453.8,285.8 453.3,285.9 439.8,285.9 438.8,285.9" fill="#08509b"/>
<polygon points="438.8,184.9 596.0,184.9 596.0,273.2 594.8,273.2 590.8,273.2 590.3,273.3 577.3,273.3 576.8,273.4 564.3,273.4 563.8,273.5 552.8,273.5 552.3,273.7 541.3,273.7 540.8,273.9 529.3,273.9 528.8,274.3 519.3,274.3 518.8,274.9 507.3,274.9 506.8,276.1 497.3,276.1 496.8,277.3 486.3,277.3 485.8,284.8 478.3,284.8 477.8,285.2 453.8,285.3 453.3,285.4 439.8,285.4 438.8,285.4" fill="#084488"/>
<polygon points="438.8,184.9 596.0,184.9 596.0,272.7 594.8,272.7 541.3,272.8 540.8,272.9 529.3,272.9 528.8,273.0 519.3,273.0 518.8,273.2 507.3,273.2 506.8,273.6 497.3,273.6 496.8,274.0 486.3,274.0 485.8,274.9 478.3,274.9 477.8,284.8 439.8,284.8 438.8,284.8" fill="#083674"/>
</g>
<rect x="439.80" y="185.90" width="155.20" height="120.50" fill="none" stroke="#111" stroke-width="0.8" stroke-opacity="0.8"/>
<path d="M439.80 306.40v3.0M460.10 306.40v3.0M486.94 306.40v3.0M507.25 306.40v3.0M527.55 306.40v3.0M554.39 306.40v3.0M574.70 306.40v3.0M595.00 306.40v3.0M439.80 306.40h-3.0M439.80 278.18h-3.0M439.80 256.83h-3.0M439.80 235.47h-3.0M439.80 207.25h-3.0M439.80 185.90h-3.0" stroke="#111" stroke-width="0.8" fill="none"/>
<path d="M471.98 306.40v2.0M480.41 306.40v2.0M492.28 306.40v2.0M496.80 306.40v2.0M500.71 306.40v2.0M504.16 306.40v2.0M539.43 306.40v2.0M547.86 306.40v2.0M559.73 306.40v2.0M564.25 306.40v2.0M568.16 306.40v2.0M571.61 306.40v2.0M439.80 293.91h-2.0M439.80 285.05h-2.0M439.80 272.56h-2.0M439.80 267.81h-2.0M439.80 263.70h-2.0M439.80 260.07h-2.0M439.80 222.99h-2.0M439.80 214.12h-2.0M439.80 201.63h-2.0M439.80 196.89h-2.0M439.80 192.77h-2.0M439.80 189.15h-2.0" stroke="#111" stroke-width="0.80" fill="none"/>
<text x="434.10" y="309.57" font-size="9.32" text-anchor="end" textLength="4.98" lengthAdjust="spacingAndGlyphs">2</text>
<text x="434.10" y="281.34" font-size="9.32" text-anchor="end" textLength="4.98" lengthAdjust="spacingAndGlyphs">5</text>
<text x="434.10" y="259.99" font-size="9.32" text-anchor="end" textLength="9.95" lengthAdjust="spacingAndGlyphs">10</text>
<text x="434.10" y="238.64" font-size="9.32" text-anchor="end" textLength="9.95" lengthAdjust="spacingAndGlyphs">20</text>
<text x="434.10" y="210.42" font-size="9.32" text-anchor="end" textLength="9.95" lengthAdjust="spacingAndGlyphs">50</text>
<text x="434.10" y="189.07" font-size="9.32" text-anchor="end" textLength="14.93" lengthAdjust="spacingAndGlyphs">100</text>
<text x="434.33" y="326.02" font-size="9.32" text-anchor="start" textLength="15.32" lengthAdjust="spacingAndGlyphs" transform="rotate(-30.00 434.33 326.02)">100</text>
<text x="454.63" y="326.02" font-size="9.32" text-anchor="start" textLength="15.32" lengthAdjust="spacingAndGlyphs" transform="rotate(-30.00 454.63 326.02)">200</text>
<text x="481.47" y="326.02" font-size="9.32" text-anchor="start" textLength="15.32" lengthAdjust="spacingAndGlyphs" transform="rotate(-30.00 481.47 326.02)">500</text>
<text x="498.46" y="329.85" font-size="9.32" text-anchor="start" textLength="22.98" lengthAdjust="spacingAndGlyphs" transform="rotate(-30.00 498.46 329.85)">1,000</text>
<text x="518.76" y="329.85" font-size="9.32" text-anchor="start" textLength="22.98" lengthAdjust="spacingAndGlyphs" transform="rotate(-30.00 518.76 329.85)">2,000</text>
<text x="545.60" y="329.85" font-size="9.32" text-anchor="start" textLength="22.98" lengthAdjust="spacingAndGlyphs" transform="rotate(-30.00 545.60 329.85)">5,000</text>
<text x="563.70" y="332.41" font-size="9.32" text-anchor="start" textLength="28.09" lengthAdjust="spacingAndGlyphs" transform="rotate(-30.00 563.70 332.41)">10,000</text>
<text x="584.00" y="332.41" font-size="9.32" text-anchor="start" textLength="28.09" lengthAdjust="spacingAndGlyphs" transform="rotate(-30.00 584.00 332.41)">20,000</text>
<text x="517.40" y="180.30" font-size="10.30" text-anchor="middle" textLength="77.14" lengthAdjust="spacingAndGlyphs">2-Neighborhood</text>
<text x="517.40" y="341.60" font-size="8.59" text-anchor="middle" textLength="68.88" lengthAdjust="spacingAndGlyphs">Number of nodes</text>
<text x="413.80" y="246.15" font-size="8.59" text-anchor="middle" textLength="7.89" lengthAdjust="spacingAndGlyphs" font-style="italic" transform="rotate(-90.00 413.80 246.15)">m</text>
<rect x="625.40" y="279.30" width="16.20" height="12.40" fill="#f2f8fd"/>
<rect x="625.40" y="267.20" width="16.20" height="12.40" fill="#e8f1fa"/>
<rect x="625.40" y="255.10" width="16.20" height="12.40" fill="#deebf7"/>
<rect x="625.40" y="243.00" width="16.20" height="12.40" fill="#d5e5f4"/>
<rect x="625.40" y="230.90" width="16.20" height="12.40" fill="#cbdef1"/>
<rect x="625.40" y="218.80" width="16.20" height="12.40" fill="#bed8ec"/>
<rect x="625.40" y="206.70" width="16.20" height="12.40" fill="#aed1e7"/>
<rect x="625.40" y="194.60" width="16.20" height="12.40" fill="#9dcae1"/>
<rect x="625.40" y="182.50" width="16.20" height="12.40" fill="#8abfdd"/>
<rect x="625.40" y="170.40" width="16.20" height="12.40" fill="#75b4d8"/>
<rect x="625.40" y="158.30" width="16.20" height="12.40" fill="#63a8d3"/>
<rect x="625.40" y="146.20" width="16.20" height="12.40" fill="#529dcc"/>
<rect x="625.40" y="134.10" width="16.20" height="12.40" fill="#4191c6"/>
<rect x="625.40" y="122.00" width="16.20" height="12.40" fill="#3585bf"/>
<rect x="625.40" y="109.90" width="16.20" height="12.40" fill="#2777b8"/>
<rect x="625.40" y="97.80" width="16.20" height="12.40" fill="#1c6ab0"/>
<rect x="625.40" y="85.70" width="16.20" height="12.40" fill="#125da6"/>
<rect x="625.40" y="73.60" width="16.20" height="12.40" fill="#08509b"/>
<rect x="625.40" y="61.50" width="16.20" height="12.40" fill="#084488"/>
<rect x="625.40" y="49.40" width="16.20" height="12.40" fill="#083674"/>
<rect x="625.40" y="49.40" width="16.20" height="242.00" fill="none" stroke="#111" stroke-width="0.8"/>
<text x="647.10" y="295.27" font-size="9.32" text-anchor="start" textLength="17.61" lengthAdjust="spacingAndGlyphs">0.00</text>
<text x="647.10" y="234.77" font-size="9.32" text-anchor="start" textLength="17.61" lengthAdjust="spacingAndGlyphs">0.25</text>
<text x="647.10" y="174.27" font-size="9.32" text-anchor="start" textLength="17.61" lengthAdjust="spacingAndGlyphs">0.50</text>
<text x="647.10" y="113.77" font-size="9.32" text-anchor="start" textLength="17.61" lengthAdjust="spacingAndGlyphs">0.75</text>
<text x="647.10" y="53.27" font-size="9.32" text-anchor="start" textLength="17.61" lengthAdjust="spacingAndGlyphs">1.00</text>
<path d="M641.60 291.40h3.0M641.60 230.90h3.0M641.60 170.40h3.0M641.60 109.90h3.0M641.60 49.40h3.0" stroke="#111" stroke-width="0.8" fill="none"/>
<text x="676.90" y="171.00" font-size="11.24" text-anchor="middle" textLength="61.67" lengthAdjust="spacingAndGlyphs" transform="rotate(90.00 676.90 171.00)">Uniqueness</text>
</svg>
</body></html>
